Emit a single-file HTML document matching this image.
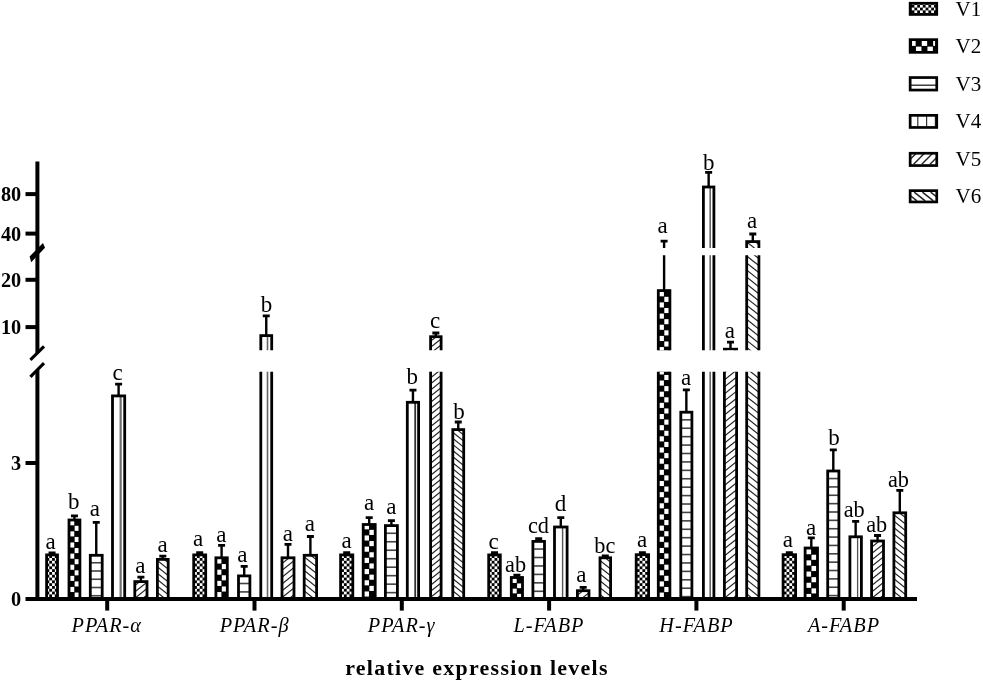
<!DOCTYPE html><html><head><meta charset="utf-8"><title>relative expression levels</title><style>html,body{margin:0;padding:0;background:#fff}body{width:983px;height:682px;overflow:hidden}.lt{font-family:"Liberation Serif","Times New Roman",serif;fill:#000}</style></head><body><svg width="983" height="682" viewBox="0 0 983 682" style="display:block;filter:blur(0.45px)">
<defs>
<clipPath id="segs"><rect x="0" y="150" width="983" height="98.0"/><rect x="0" y="255.3" width="983" height="94.89999999999998"/><rect x="0" y="371.8" width="983" height="233.2"/></clipPath>
<pattern id="p1" patternUnits="userSpaceOnUse" width="5.6" height="5.6" x="0" y="3.600000000000083"><rect width="5.6" height="5.6" fill="#000"/><rect x="0" y="0" width="2.8" height="2.8" fill="#fff"/><rect x="2.8" y="2.8" width="2.8" height="2.8" fill="#fff"/></pattern>
</defs>
<rect width="983" height="682" fill="#fff"/>
<clipPath id="c00"><rect x="46.60" y="554.90" width="10.90" height="44.10"/></clipPath>
<g clip-path="url(#segs)">
<g clip-path="url(#c00)">
<rect x="46.60" y="554.90" width="10.90" height="44.10" fill="#000"/>
<rect x="46.45" y="594.40" width="2.8" height="2.8" fill="#fff"/>
<rect x="52.05" y="594.40" width="2.8" height="2.8" fill="#fff"/>
<rect x="57.65" y="594.40" width="2.8" height="2.8" fill="#fff"/>
<rect x="43.65" y="591.60" width="2.8" height="2.8" fill="#fff"/>
<rect x="49.25" y="591.60" width="2.8" height="2.8" fill="#fff"/>
<rect x="54.85" y="591.60" width="2.8" height="2.8" fill="#fff"/>
<rect x="46.45" y="588.80" width="2.8" height="2.8" fill="#fff"/>
<rect x="52.05" y="588.80" width="2.8" height="2.8" fill="#fff"/>
<rect x="57.65" y="588.80" width="2.8" height="2.8" fill="#fff"/>
<rect x="43.65" y="586.00" width="2.8" height="2.8" fill="#fff"/>
<rect x="49.25" y="586.00" width="2.8" height="2.8" fill="#fff"/>
<rect x="54.85" y="586.00" width="2.8" height="2.8" fill="#fff"/>
<rect x="46.45" y="583.20" width="2.8" height="2.8" fill="#fff"/>
<rect x="52.05" y="583.20" width="2.8" height="2.8" fill="#fff"/>
<rect x="57.65" y="583.20" width="2.8" height="2.8" fill="#fff"/>
<rect x="43.65" y="580.40" width="2.8" height="2.8" fill="#fff"/>
<rect x="49.25" y="580.40" width="2.8" height="2.8" fill="#fff"/>
<rect x="54.85" y="580.40" width="2.8" height="2.8" fill="#fff"/>
<rect x="46.45" y="577.60" width="2.8" height="2.8" fill="#fff"/>
<rect x="52.05" y="577.60" width="2.8" height="2.8" fill="#fff"/>
<rect x="57.65" y="577.60" width="2.8" height="2.8" fill="#fff"/>
<rect x="43.65" y="574.80" width="2.8" height="2.8" fill="#fff"/>
<rect x="49.25" y="574.80" width="2.8" height="2.8" fill="#fff"/>
<rect x="54.85" y="574.80" width="2.8" height="2.8" fill="#fff"/>
<rect x="46.45" y="572.00" width="2.8" height="2.8" fill="#fff"/>
<rect x="52.05" y="572.00" width="2.8" height="2.8" fill="#fff"/>
<rect x="57.65" y="572.00" width="2.8" height="2.8" fill="#fff"/>
<rect x="43.65" y="569.20" width="2.8" height="2.8" fill="#fff"/>
<rect x="49.25" y="569.20" width="2.8" height="2.8" fill="#fff"/>
<rect x="54.85" y="569.20" width="2.8" height="2.8" fill="#fff"/>
<rect x="46.45" y="566.40" width="2.8" height="2.8" fill="#fff"/>
<rect x="52.05" y="566.40" width="2.8" height="2.8" fill="#fff"/>
<rect x="57.65" y="566.40" width="2.8" height="2.8" fill="#fff"/>
<rect x="43.65" y="563.60" width="2.8" height="2.8" fill="#fff"/>
<rect x="49.25" y="563.60" width="2.8" height="2.8" fill="#fff"/>
<rect x="54.85" y="563.60" width="2.8" height="2.8" fill="#fff"/>
<rect x="46.45" y="560.80" width="2.8" height="2.8" fill="#fff"/>
<rect x="52.05" y="560.80" width="2.8" height="2.8" fill="#fff"/>
<rect x="57.65" y="560.80" width="2.8" height="2.8" fill="#fff"/>
<rect x="43.65" y="558.00" width="2.8" height="2.8" fill="#fff"/>
<rect x="49.25" y="558.00" width="2.8" height="2.8" fill="#fff"/>
<rect x="54.85" y="558.00" width="2.8" height="2.8" fill="#fff"/>
<rect x="46.45" y="555.20" width="2.8" height="2.8" fill="#fff"/>
<rect x="52.05" y="555.20" width="2.8" height="2.8" fill="#fff"/>
<rect x="57.65" y="555.20" width="2.8" height="2.8" fill="#fff"/>
<rect x="43.65" y="552.40" width="2.8" height="2.8" fill="#fff"/>
<rect x="49.25" y="552.40" width="2.8" height="2.8" fill="#fff"/>
<rect x="54.85" y="552.40" width="2.8" height="2.8" fill="#fff"/>
<rect x="46.45" y="549.60" width="2.8" height="2.8" fill="#fff"/>
<rect x="52.05" y="549.60" width="2.8" height="2.8" fill="#fff"/>
<rect x="57.65" y="549.60" width="2.8" height="2.8" fill="#fff"/>
</g>
<rect x="46.60" y="554.90" width="10.90" height="44.10" fill="none" stroke="#000" stroke-width="2.8"/>
<line x1="52.05" y1="554.50" x2="52.05" y2="553.30" stroke="#000" stroke-width="2.4"/>
<line x1="48.55" y1="552.90" x2="55.55" y2="552.90" stroke="#000" stroke-width="2.8"/>
</g>
<text x="50.55" y="549.10" text-anchor="middle" font-size="23" class="lt">a</text>
<clipPath id="c01"><rect x="69.00" y="520.00" width="10.90" height="79.00"/></clipPath>
<g clip-path="url(#segs)">
<g clip-path="url(#c01)">
<rect x="69.00" y="520.00" width="10.90" height="79.00" fill="#000"/>
<rect x="69.00" y="520.25" width="5.25" height="5.06" fill="#fff"/>
<rect x="74.65" y="525.81" width="5.25" height="5.06" fill="#fff"/>
<rect x="69.00" y="531.37" width="5.25" height="5.06" fill="#fff"/>
<rect x="74.65" y="536.93" width="5.25" height="5.06" fill="#fff"/>
<rect x="69.00" y="542.49" width="5.25" height="5.06" fill="#fff"/>
<rect x="74.65" y="548.05" width="5.25" height="5.06" fill="#fff"/>
<rect x="69.00" y="553.61" width="5.25" height="5.06" fill="#fff"/>
<rect x="74.65" y="559.17" width="5.25" height="5.06" fill="#fff"/>
<rect x="69.00" y="564.73" width="5.25" height="5.06" fill="#fff"/>
<rect x="74.65" y="570.29" width="5.25" height="5.06" fill="#fff"/>
<rect x="69.00" y="575.85" width="5.25" height="5.06" fill="#fff"/>
<rect x="74.65" y="581.41" width="5.25" height="5.06" fill="#fff"/>
<rect x="69.00" y="586.97" width="5.25" height="5.06" fill="#fff"/>
<rect x="74.65" y="592.53" width="5.25" height="5.06" fill="#fff"/>
<rect x="69.00" y="598.09" width="5.25" height="5.06" fill="#fff"/>
</g>
<rect x="69.00" y="520.00" width="10.90" height="79.00" fill="none" stroke="#000" stroke-width="2.8"/>
<line x1="74.45" y1="519.60" x2="74.45" y2="516.30" stroke="#000" stroke-width="2.4"/>
<line x1="70.95" y1="515.90" x2="77.95" y2="515.90" stroke="#000" stroke-width="2.8"/>
</g>
<text x="73.75" y="508.50" text-anchor="middle" font-size="23" class="lt">b</text>
<clipPath id="c02"><rect x="90.30" y="555.30" width="11.90" height="43.70"/></clipPath>
<g clip-path="url(#segs)">
<g clip-path="url(#c02)">
<rect x="90.30" y="561.95" width="11.90" height="1.6" fill="#444"/>
<rect x="90.30" y="570.20" width="11.90" height="1.6" fill="#444"/>
<rect x="90.30" y="578.45" width="11.90" height="1.6" fill="#444"/>
<rect x="90.30" y="586.70" width="11.90" height="1.6" fill="#444"/>
<rect x="90.30" y="594.95" width="11.90" height="1.6" fill="#444"/>
</g>
<rect x="90.30" y="555.30" width="11.90" height="43.70" fill="none" stroke="#000" stroke-width="2.8"/>
<line x1="96.25" y1="554.90" x2="96.25" y2="522.70" stroke="#000" stroke-width="2.4"/>
<line x1="92.75" y1="522.30" x2="99.75" y2="522.30" stroke="#000" stroke-width="2.8"/>
</g>
<text x="94.75" y="516.10" text-anchor="middle" font-size="23" class="lt">a</text>
<clipPath id="c03"><rect x="112.50" y="395.90" width="12.20" height="203.10"/></clipPath>
<g clip-path="url(#segs)">
<g clip-path="url(#c03)">
<rect x="119.55" y="395.90" width="2.2" height="203.10" fill="#707070"/>
</g>
<rect x="112.50" y="395.90" width="12.20" height="203.10" fill="none" stroke="#000" stroke-width="2.8"/>
<line x1="118.60" y1="395.50" x2="118.60" y2="384.60" stroke="#000" stroke-width="2.4"/>
<line x1="115.10" y1="384.20" x2="122.10" y2="384.20" stroke="#000" stroke-width="2.8"/>
</g>
<text x="117.60" y="379.90" text-anchor="middle" font-size="23" class="lt">c</text>
<clipPath id="c04"><rect x="134.80" y="581.60" width="12.20" height="17.40"/></clipPath>
<g clip-path="url(#segs)">
<g clip-path="url(#c04)">
<line x1="132.80" y1="567.92" x2="149.00" y2="554.96" stroke="#222" stroke-width="1.15"/>
<line x1="132.80" y1="574.32" x2="149.00" y2="561.36" stroke="#222" stroke-width="1.15"/>
<line x1="132.80" y1="580.72" x2="149.00" y2="567.76" stroke="#222" stroke-width="1.15"/>
<line x1="132.80" y1="587.12" x2="149.00" y2="574.16" stroke="#222" stroke-width="1.15"/>
<line x1="132.80" y1="593.52" x2="149.00" y2="580.56" stroke="#222" stroke-width="1.15"/>
<line x1="132.80" y1="599.92" x2="149.00" y2="586.96" stroke="#222" stroke-width="1.15"/>
<line x1="132.80" y1="606.32" x2="149.00" y2="593.36" stroke="#222" stroke-width="1.15"/>
<line x1="132.80" y1="612.72" x2="149.00" y2="599.76" stroke="#222" stroke-width="1.15"/>
</g>
<rect x="134.80" y="581.60" width="12.20" height="17.40" fill="none" stroke="#000" stroke-width="2.8"/>
<line x1="140.90" y1="581.20" x2="140.90" y2="577.50" stroke="#000" stroke-width="2.4"/>
<line x1="137.40" y1="577.10" x2="144.40" y2="577.10" stroke="#000" stroke-width="2.8"/>
</g>
<text x="140.40" y="573.00" text-anchor="middle" font-size="23" class="lt">a</text>
<clipPath id="c05"><rect x="157.40" y="559.40" width="10.80" height="39.60"/></clipPath>
<g clip-path="url(#segs)">
<g clip-path="url(#c05)">
<line x1="155.40" y1="539.66" x2="170.20" y2="551.50" stroke="#222" stroke-width="1.15"/>
<line x1="155.40" y1="546.06" x2="170.20" y2="557.90" stroke="#222" stroke-width="1.15"/>
<line x1="155.40" y1="552.46" x2="170.20" y2="564.30" stroke="#222" stroke-width="1.15"/>
<line x1="155.40" y1="558.86" x2="170.20" y2="570.70" stroke="#222" stroke-width="1.15"/>
<line x1="155.40" y1="565.26" x2="170.20" y2="577.10" stroke="#222" stroke-width="1.15"/>
<line x1="155.40" y1="571.66" x2="170.20" y2="583.50" stroke="#222" stroke-width="1.15"/>
<line x1="155.40" y1="578.06" x2="170.20" y2="589.90" stroke="#222" stroke-width="1.15"/>
<line x1="155.40" y1="584.46" x2="170.20" y2="596.30" stroke="#222" stroke-width="1.15"/>
<line x1="155.40" y1="590.86" x2="170.20" y2="602.70" stroke="#222" stroke-width="1.15"/>
<line x1="155.40" y1="597.26" x2="170.20" y2="609.10" stroke="#222" stroke-width="1.15"/>
<line x1="155.40" y1="603.66" x2="170.20" y2="615.50" stroke="#222" stroke-width="1.15"/>
<line x1="155.40" y1="610.06" x2="170.20" y2="621.90" stroke="#222" stroke-width="1.15"/>
</g>
<rect x="157.40" y="559.40" width="10.80" height="39.60" fill="none" stroke="#000" stroke-width="2.8"/>
<line x1="162.80" y1="559.00" x2="162.80" y2="556.60" stroke="#000" stroke-width="2.4"/>
<line x1="159.30" y1="556.20" x2="166.30" y2="556.20" stroke="#000" stroke-width="2.8"/>
</g>
<text x="162.60" y="552.10" text-anchor="middle" font-size="23" class="lt">a</text>
<clipPath id="c10"><rect x="193.70" y="554.90" width="12.00" height="44.10"/></clipPath>
<g clip-path="url(#segs)">
<g clip-path="url(#c10)">
<rect x="193.70" y="554.90" width="12.00" height="44.10" fill="#000"/>
<rect x="194.10" y="594.40" width="2.8" height="2.8" fill="#fff"/>
<rect x="199.70" y="594.40" width="2.8" height="2.8" fill="#fff"/>
<rect x="205.30" y="594.40" width="2.8" height="2.8" fill="#fff"/>
<rect x="191.30" y="591.60" width="2.8" height="2.8" fill="#fff"/>
<rect x="196.90" y="591.60" width="2.8" height="2.8" fill="#fff"/>
<rect x="202.50" y="591.60" width="2.8" height="2.8" fill="#fff"/>
<rect x="194.10" y="588.80" width="2.8" height="2.8" fill="#fff"/>
<rect x="199.70" y="588.80" width="2.8" height="2.8" fill="#fff"/>
<rect x="205.30" y="588.80" width="2.8" height="2.8" fill="#fff"/>
<rect x="191.30" y="586.00" width="2.8" height="2.8" fill="#fff"/>
<rect x="196.90" y="586.00" width="2.8" height="2.8" fill="#fff"/>
<rect x="202.50" y="586.00" width="2.8" height="2.8" fill="#fff"/>
<rect x="194.10" y="583.20" width="2.8" height="2.8" fill="#fff"/>
<rect x="199.70" y="583.20" width="2.8" height="2.8" fill="#fff"/>
<rect x="205.30" y="583.20" width="2.8" height="2.8" fill="#fff"/>
<rect x="191.30" y="580.40" width="2.8" height="2.8" fill="#fff"/>
<rect x="196.90" y="580.40" width="2.8" height="2.8" fill="#fff"/>
<rect x="202.50" y="580.40" width="2.8" height="2.8" fill="#fff"/>
<rect x="194.10" y="577.60" width="2.8" height="2.8" fill="#fff"/>
<rect x="199.70" y="577.60" width="2.8" height="2.8" fill="#fff"/>
<rect x="205.30" y="577.60" width="2.8" height="2.8" fill="#fff"/>
<rect x="191.30" y="574.80" width="2.8" height="2.8" fill="#fff"/>
<rect x="196.90" y="574.80" width="2.8" height="2.8" fill="#fff"/>
<rect x="202.50" y="574.80" width="2.8" height="2.8" fill="#fff"/>
<rect x="194.10" y="572.00" width="2.8" height="2.8" fill="#fff"/>
<rect x="199.70" y="572.00" width="2.8" height="2.8" fill="#fff"/>
<rect x="205.30" y="572.00" width="2.8" height="2.8" fill="#fff"/>
<rect x="191.30" y="569.20" width="2.8" height="2.8" fill="#fff"/>
<rect x="196.90" y="569.20" width="2.8" height="2.8" fill="#fff"/>
<rect x="202.50" y="569.20" width="2.8" height="2.8" fill="#fff"/>
<rect x="194.10" y="566.40" width="2.8" height="2.8" fill="#fff"/>
<rect x="199.70" y="566.40" width="2.8" height="2.8" fill="#fff"/>
<rect x="205.30" y="566.40" width="2.8" height="2.8" fill="#fff"/>
<rect x="191.30" y="563.60" width="2.8" height="2.8" fill="#fff"/>
<rect x="196.90" y="563.60" width="2.8" height="2.8" fill="#fff"/>
<rect x="202.50" y="563.60" width="2.8" height="2.8" fill="#fff"/>
<rect x="194.10" y="560.80" width="2.8" height="2.8" fill="#fff"/>
<rect x="199.70" y="560.80" width="2.8" height="2.8" fill="#fff"/>
<rect x="205.30" y="560.80" width="2.8" height="2.8" fill="#fff"/>
<rect x="191.30" y="558.00" width="2.8" height="2.8" fill="#fff"/>
<rect x="196.90" y="558.00" width="2.8" height="2.8" fill="#fff"/>
<rect x="202.50" y="558.00" width="2.8" height="2.8" fill="#fff"/>
<rect x="194.10" y="555.20" width="2.8" height="2.8" fill="#fff"/>
<rect x="199.70" y="555.20" width="2.8" height="2.8" fill="#fff"/>
<rect x="205.30" y="555.20" width="2.8" height="2.8" fill="#fff"/>
<rect x="191.30" y="552.40" width="2.8" height="2.8" fill="#fff"/>
<rect x="196.90" y="552.40" width="2.8" height="2.8" fill="#fff"/>
<rect x="202.50" y="552.40" width="2.8" height="2.8" fill="#fff"/>
<rect x="194.10" y="549.60" width="2.8" height="2.8" fill="#fff"/>
<rect x="199.70" y="549.60" width="2.8" height="2.8" fill="#fff"/>
<rect x="205.30" y="549.60" width="2.8" height="2.8" fill="#fff"/>
</g>
<rect x="193.70" y="554.90" width="12.00" height="44.10" fill="none" stroke="#000" stroke-width="2.8"/>
<line x1="199.70" y1="554.50" x2="199.70" y2="553.00" stroke="#000" stroke-width="2.4"/>
<line x1="196.20" y1="552.60" x2="203.20" y2="552.60" stroke="#000" stroke-width="2.8"/>
</g>
<text x="198.20" y="545.80" text-anchor="middle" font-size="23" class="lt">a</text>
<clipPath id="c11"><rect x="215.90" y="557.80" width="11.40" height="41.20"/></clipPath>
<g clip-path="url(#segs)">
<g clip-path="url(#c11)">
<rect x="215.90" y="557.80" width="11.40" height="41.20" fill="#000"/>
<rect x="215.90" y="558.45" width="5.50" height="5.10" fill="#fff"/>
<rect x="221.80" y="564.05" width="5.50" height="5.10" fill="#fff"/>
<rect x="215.90" y="569.65" width="5.50" height="5.10" fill="#fff"/>
<rect x="221.80" y="575.25" width="5.50" height="5.10" fill="#fff"/>
<rect x="215.90" y="580.85" width="5.50" height="5.10" fill="#fff"/>
<rect x="221.80" y="586.45" width="5.50" height="5.10" fill="#fff"/>
<rect x="215.90" y="592.05" width="5.50" height="5.10" fill="#fff"/>
<rect x="221.80" y="597.65" width="5.50" height="5.10" fill="#fff"/>
</g>
<rect x="215.90" y="557.80" width="11.40" height="41.20" fill="none" stroke="#000" stroke-width="2.8"/>
<line x1="221.60" y1="557.40" x2="221.60" y2="545.70" stroke="#000" stroke-width="2.4"/>
<line x1="218.10" y1="545.30" x2="225.10" y2="545.30" stroke="#000" stroke-width="2.8"/>
</g>
<text x="221.40" y="542.20" text-anchor="middle" font-size="23" class="lt">a</text>
<clipPath id="c12"><rect x="238.50" y="575.90" width="11.40" height="23.10"/></clipPath>
<g clip-path="url(#segs)">
<g clip-path="url(#c12)">
<rect x="238.50" y="582.70" width="11.40" height="1.6" fill="#444"/>
<rect x="238.50" y="591.10" width="11.40" height="1.6" fill="#444"/>
</g>
<rect x="238.50" y="575.90" width="11.40" height="23.10" fill="none" stroke="#000" stroke-width="2.8"/>
<line x1="244.20" y1="575.50" x2="244.20" y2="566.80" stroke="#000" stroke-width="2.4"/>
<line x1="240.70" y1="566.40" x2="247.70" y2="566.40" stroke="#000" stroke-width="2.8"/>
</g>
<text x="242.40" y="561.80" text-anchor="middle" font-size="23" class="lt">a</text>
<clipPath id="c13"><rect x="260.80" y="335.60" width="10.90" height="263.40"/></clipPath>
<g clip-path="url(#segs)">
<g clip-path="url(#c13)">
<rect x="266.70" y="335.60" width="1.6" height="263.40" fill="#666"/>
</g>
<rect x="260.80" y="335.60" width="10.90" height="263.40" fill="none" stroke="#000" stroke-width="2.8"/>
<line x1="266.25" y1="335.20" x2="266.25" y2="316.20" stroke="#000" stroke-width="2.4"/>
<line x1="262.75" y1="315.80" x2="269.75" y2="315.80" stroke="#000" stroke-width="2.8"/>
</g>
<text x="266.55" y="311.50" text-anchor="middle" font-size="23" class="lt">b</text>
<clipPath id="c14"><rect x="282.00" y="557.80" width="12.00" height="41.20"/></clipPath>
<g clip-path="url(#segs)">
<g clip-path="url(#c14)">
<line x1="280.00" y1="544.76" x2="296.00" y2="531.96" stroke="#222" stroke-width="1.15"/>
<line x1="280.00" y1="551.56" x2="296.00" y2="538.76" stroke="#222" stroke-width="1.15"/>
<line x1="280.00" y1="558.36" x2="296.00" y2="545.56" stroke="#222" stroke-width="1.15"/>
<line x1="280.00" y1="565.16" x2="296.00" y2="552.36" stroke="#222" stroke-width="1.15"/>
<line x1="280.00" y1="571.96" x2="296.00" y2="559.16" stroke="#222" stroke-width="1.15"/>
<line x1="280.00" y1="578.76" x2="296.00" y2="565.96" stroke="#222" stroke-width="1.15"/>
<line x1="280.00" y1="585.56" x2="296.00" y2="572.76" stroke="#222" stroke-width="1.15"/>
<line x1="280.00" y1="592.36" x2="296.00" y2="579.56" stroke="#222" stroke-width="1.15"/>
<line x1="280.00" y1="599.16" x2="296.00" y2="586.36" stroke="#222" stroke-width="1.15"/>
<line x1="280.00" y1="605.96" x2="296.00" y2="593.16" stroke="#222" stroke-width="1.15"/>
<line x1="280.00" y1="612.76" x2="296.00" y2="599.96" stroke="#222" stroke-width="1.15"/>
</g>
<rect x="282.00" y="557.80" width="12.00" height="41.20" fill="none" stroke="#000" stroke-width="2.8"/>
<line x1="288.00" y1="557.40" x2="288.00" y2="544.70" stroke="#000" stroke-width="2.4"/>
<line x1="284.50" y1="544.30" x2="291.50" y2="544.30" stroke="#000" stroke-width="2.8"/>
</g>
<text x="287.80" y="540.90" text-anchor="middle" font-size="23" class="lt">a</text>
<clipPath id="c15"><rect x="304.20" y="555.30" width="12.40" height="43.70"/></clipPath>
<g clip-path="url(#segs)">
<g clip-path="url(#c15)">
<line x1="302.20" y1="534.80" x2="318.60" y2="547.92" stroke="#222" stroke-width="1.15"/>
<line x1="302.20" y1="541.60" x2="318.60" y2="554.72" stroke="#222" stroke-width="1.15"/>
<line x1="302.20" y1="548.40" x2="318.60" y2="561.52" stroke="#222" stroke-width="1.15"/>
<line x1="302.20" y1="555.20" x2="318.60" y2="568.32" stroke="#222" stroke-width="1.15"/>
<line x1="302.20" y1="562.00" x2="318.60" y2="575.12" stroke="#222" stroke-width="1.15"/>
<line x1="302.20" y1="568.80" x2="318.60" y2="581.92" stroke="#222" stroke-width="1.15"/>
<line x1="302.20" y1="575.60" x2="318.60" y2="588.72" stroke="#222" stroke-width="1.15"/>
<line x1="302.20" y1="582.40" x2="318.60" y2="595.52" stroke="#222" stroke-width="1.15"/>
<line x1="302.20" y1="589.20" x2="318.60" y2="602.32" stroke="#222" stroke-width="1.15"/>
<line x1="302.20" y1="596.00" x2="318.60" y2="609.12" stroke="#222" stroke-width="1.15"/>
<line x1="302.20" y1="602.80" x2="318.60" y2="615.92" stroke="#222" stroke-width="1.15"/>
<line x1="302.20" y1="609.60" x2="318.60" y2="622.72" stroke="#222" stroke-width="1.15"/>
</g>
<rect x="304.20" y="555.30" width="12.40" height="43.70" fill="none" stroke="#000" stroke-width="2.8"/>
<line x1="310.40" y1="554.90" x2="310.40" y2="536.90" stroke="#000" stroke-width="2.4"/>
<line x1="306.90" y1="536.50" x2="313.90" y2="536.50" stroke="#000" stroke-width="2.8"/>
</g>
<text x="309.80" y="530.50" text-anchor="middle" font-size="23" class="lt">a</text>
<clipPath id="c20"><rect x="340.60" y="554.90" width="12.20" height="44.10"/></clipPath>
<g clip-path="url(#segs)">
<g clip-path="url(#c20)">
<rect x="340.60" y="554.90" width="12.20" height="44.10" fill="#000"/>
<rect x="341.10" y="594.40" width="2.8" height="2.8" fill="#fff"/>
<rect x="346.70" y="594.40" width="2.8" height="2.8" fill="#fff"/>
<rect x="352.30" y="594.40" width="2.8" height="2.8" fill="#fff"/>
<rect x="338.30" y="591.60" width="2.8" height="2.8" fill="#fff"/>
<rect x="343.90" y="591.60" width="2.8" height="2.8" fill="#fff"/>
<rect x="349.50" y="591.60" width="2.8" height="2.8" fill="#fff"/>
<rect x="341.10" y="588.80" width="2.8" height="2.8" fill="#fff"/>
<rect x="346.70" y="588.80" width="2.8" height="2.8" fill="#fff"/>
<rect x="352.30" y="588.80" width="2.8" height="2.8" fill="#fff"/>
<rect x="338.30" y="586.00" width="2.8" height="2.8" fill="#fff"/>
<rect x="343.90" y="586.00" width="2.8" height="2.8" fill="#fff"/>
<rect x="349.50" y="586.00" width="2.8" height="2.8" fill="#fff"/>
<rect x="341.10" y="583.20" width="2.8" height="2.8" fill="#fff"/>
<rect x="346.70" y="583.20" width="2.8" height="2.8" fill="#fff"/>
<rect x="352.30" y="583.20" width="2.8" height="2.8" fill="#fff"/>
<rect x="338.30" y="580.40" width="2.8" height="2.8" fill="#fff"/>
<rect x="343.90" y="580.40" width="2.8" height="2.8" fill="#fff"/>
<rect x="349.50" y="580.40" width="2.8" height="2.8" fill="#fff"/>
<rect x="341.10" y="577.60" width="2.8" height="2.8" fill="#fff"/>
<rect x="346.70" y="577.60" width="2.8" height="2.8" fill="#fff"/>
<rect x="352.30" y="577.60" width="2.8" height="2.8" fill="#fff"/>
<rect x="338.30" y="574.80" width="2.8" height="2.8" fill="#fff"/>
<rect x="343.90" y="574.80" width="2.8" height="2.8" fill="#fff"/>
<rect x="349.50" y="574.80" width="2.8" height="2.8" fill="#fff"/>
<rect x="341.10" y="572.00" width="2.8" height="2.8" fill="#fff"/>
<rect x="346.70" y="572.00" width="2.8" height="2.8" fill="#fff"/>
<rect x="352.30" y="572.00" width="2.8" height="2.8" fill="#fff"/>
<rect x="338.30" y="569.20" width="2.8" height="2.8" fill="#fff"/>
<rect x="343.90" y="569.20" width="2.8" height="2.8" fill="#fff"/>
<rect x="349.50" y="569.20" width="2.8" height="2.8" fill="#fff"/>
<rect x="341.10" y="566.40" width="2.8" height="2.8" fill="#fff"/>
<rect x="346.70" y="566.40" width="2.8" height="2.8" fill="#fff"/>
<rect x="352.30" y="566.40" width="2.8" height="2.8" fill="#fff"/>
<rect x="338.30" y="563.60" width="2.8" height="2.8" fill="#fff"/>
<rect x="343.90" y="563.60" width="2.8" height="2.8" fill="#fff"/>
<rect x="349.50" y="563.60" width="2.8" height="2.8" fill="#fff"/>
<rect x="341.10" y="560.80" width="2.8" height="2.8" fill="#fff"/>
<rect x="346.70" y="560.80" width="2.8" height="2.8" fill="#fff"/>
<rect x="352.30" y="560.80" width="2.8" height="2.8" fill="#fff"/>
<rect x="338.30" y="558.00" width="2.8" height="2.8" fill="#fff"/>
<rect x="343.90" y="558.00" width="2.8" height="2.8" fill="#fff"/>
<rect x="349.50" y="558.00" width="2.8" height="2.8" fill="#fff"/>
<rect x="341.10" y="555.20" width="2.8" height="2.8" fill="#fff"/>
<rect x="346.70" y="555.20" width="2.8" height="2.8" fill="#fff"/>
<rect x="352.30" y="555.20" width="2.8" height="2.8" fill="#fff"/>
<rect x="338.30" y="552.40" width="2.8" height="2.8" fill="#fff"/>
<rect x="343.90" y="552.40" width="2.8" height="2.8" fill="#fff"/>
<rect x="349.50" y="552.40" width="2.8" height="2.8" fill="#fff"/>
<rect x="341.10" y="549.60" width="2.8" height="2.8" fill="#fff"/>
<rect x="346.70" y="549.60" width="2.8" height="2.8" fill="#fff"/>
<rect x="352.30" y="549.60" width="2.8" height="2.8" fill="#fff"/>
</g>
<rect x="340.60" y="554.90" width="12.20" height="44.10" fill="none" stroke="#000" stroke-width="2.8"/>
<line x1="346.70" y1="554.50" x2="346.70" y2="553.00" stroke="#000" stroke-width="2.4"/>
<line x1="343.20" y1="552.60" x2="350.20" y2="552.60" stroke="#000" stroke-width="2.8"/>
</g>
<text x="346.50" y="547.60" text-anchor="middle" font-size="23" class="lt">a</text>
<clipPath id="c21"><rect x="363.20" y="524.50" width="12.00" height="74.50"/></clipPath>
<g clip-path="url(#segs)">
<g clip-path="url(#c21)">
<rect x="363.20" y="524.50" width="12.00" height="74.50" fill="#000"/>
<rect x="363.20" y="524.25" width="5.80" height="5.10" fill="#fff"/>
<rect x="369.40" y="529.85" width="5.80" height="5.10" fill="#fff"/>
<rect x="363.20" y="535.45" width="5.80" height="5.10" fill="#fff"/>
<rect x="369.40" y="541.05" width="5.80" height="5.10" fill="#fff"/>
<rect x="363.20" y="546.65" width="5.80" height="5.10" fill="#fff"/>
<rect x="369.40" y="552.25" width="5.80" height="5.10" fill="#fff"/>
<rect x="363.20" y="557.85" width="5.80" height="5.10" fill="#fff"/>
<rect x="369.40" y="563.45" width="5.80" height="5.10" fill="#fff"/>
<rect x="363.20" y="569.05" width="5.80" height="5.10" fill="#fff"/>
<rect x="369.40" y="574.65" width="5.80" height="5.10" fill="#fff"/>
<rect x="363.20" y="580.25" width="5.80" height="5.10" fill="#fff"/>
<rect x="369.40" y="585.85" width="5.80" height="5.10" fill="#fff"/>
<rect x="363.20" y="591.45" width="5.80" height="5.10" fill="#fff"/>
<rect x="369.40" y="597.05" width="5.80" height="5.10" fill="#fff"/>
</g>
<rect x="363.20" y="524.50" width="12.00" height="74.50" fill="none" stroke="#000" stroke-width="2.8"/>
<line x1="369.20" y1="524.10" x2="369.20" y2="518.00" stroke="#000" stroke-width="2.4"/>
<line x1="365.70" y1="517.60" x2="372.70" y2="517.60" stroke="#000" stroke-width="2.8"/>
</g>
<text x="369.20" y="510.20" text-anchor="middle" font-size="23" class="lt">a</text>
<clipPath id="c22"><rect x="385.40" y="525.60" width="12.00" height="73.40"/></clipPath>
<g clip-path="url(#segs)">
<g clip-path="url(#c22)">
<rect x="385.40" y="532.48" width="12.00" height="1.6" fill="#444"/>
<rect x="385.40" y="540.96" width="12.00" height="1.6" fill="#444"/>
<rect x="385.40" y="549.44" width="12.00" height="1.6" fill="#444"/>
<rect x="385.40" y="557.92" width="12.00" height="1.6" fill="#444"/>
<rect x="385.40" y="566.40" width="12.00" height="1.6" fill="#444"/>
<rect x="385.40" y="574.88" width="12.00" height="1.6" fill="#444"/>
<rect x="385.40" y="583.36" width="12.00" height="1.6" fill="#444"/>
<rect x="385.40" y="591.84" width="12.00" height="1.6" fill="#444"/>
</g>
<rect x="385.40" y="525.60" width="12.00" height="73.40" fill="none" stroke="#000" stroke-width="2.8"/>
<line x1="391.40" y1="525.20" x2="391.40" y2="521.00" stroke="#000" stroke-width="2.4"/>
<line x1="387.90" y1="520.60" x2="394.90" y2="520.60" stroke="#000" stroke-width="2.8"/>
</g>
<text x="391.30" y="514.10" text-anchor="middle" font-size="23" class="lt">a</text>
<clipPath id="c23"><rect x="407.30" y="402.30" width="11.30" height="196.70"/></clipPath>
<g clip-path="url(#segs)">
<g clip-path="url(#c23)">
<rect x="414.30" y="402.30" width="1.8" height="196.70" fill="#333"/>
</g>
<rect x="407.30" y="402.30" width="11.30" height="196.70" fill="none" stroke="#000" stroke-width="2.8"/>
<line x1="412.95" y1="401.90" x2="412.95" y2="390.60" stroke="#000" stroke-width="2.4"/>
<line x1="409.45" y1="390.20" x2="416.45" y2="390.20" stroke="#000" stroke-width="2.8"/>
</g>
<text x="412.25" y="383.90" text-anchor="middle" font-size="23" class="lt">b</text>
<clipPath id="c24"><rect x="430.60" y="336.70" width="10.50" height="262.30"/></clipPath>
<g clip-path="url(#segs)">
<g clip-path="url(#c24)">
<line x1="428.60" y1="324.48" x2="443.10" y2="312.88" stroke="#222" stroke-width="1.15"/>
<line x1="428.60" y1="330.58" x2="443.10" y2="318.98" stroke="#222" stroke-width="1.15"/>
<line x1="428.60" y1="336.68" x2="443.10" y2="325.08" stroke="#222" stroke-width="1.15"/>
<line x1="428.60" y1="342.78" x2="443.10" y2="331.18" stroke="#222" stroke-width="1.15"/>
<line x1="428.60" y1="348.88" x2="443.10" y2="337.28" stroke="#222" stroke-width="1.15"/>
<line x1="428.60" y1="354.98" x2="443.10" y2="343.38" stroke="#222" stroke-width="1.15"/>
<line x1="428.60" y1="361.08" x2="443.10" y2="349.48" stroke="#222" stroke-width="1.15"/>
<line x1="428.60" y1="367.18" x2="443.10" y2="355.58" stroke="#222" stroke-width="1.15"/>
<line x1="428.60" y1="373.28" x2="443.10" y2="361.68" stroke="#222" stroke-width="1.15"/>
<line x1="428.60" y1="379.38" x2="443.10" y2="367.78" stroke="#222" stroke-width="1.15"/>
<line x1="428.60" y1="385.48" x2="443.10" y2="373.88" stroke="#222" stroke-width="1.15"/>
<line x1="428.60" y1="391.58" x2="443.10" y2="379.98" stroke="#222" stroke-width="1.15"/>
<line x1="428.60" y1="397.68" x2="443.10" y2="386.08" stroke="#222" stroke-width="1.15"/>
<line x1="428.60" y1="403.78" x2="443.10" y2="392.18" stroke="#222" stroke-width="1.15"/>
<line x1="428.60" y1="409.88" x2="443.10" y2="398.28" stroke="#222" stroke-width="1.15"/>
<line x1="428.60" y1="415.98" x2="443.10" y2="404.38" stroke="#222" stroke-width="1.15"/>
<line x1="428.60" y1="422.08" x2="443.10" y2="410.48" stroke="#222" stroke-width="1.15"/>
<line x1="428.60" y1="428.18" x2="443.10" y2="416.58" stroke="#222" stroke-width="1.15"/>
<line x1="428.60" y1="434.28" x2="443.10" y2="422.68" stroke="#222" stroke-width="1.15"/>
<line x1="428.60" y1="440.38" x2="443.10" y2="428.78" stroke="#222" stroke-width="1.15"/>
<line x1="428.60" y1="446.48" x2="443.10" y2="434.88" stroke="#222" stroke-width="1.15"/>
<line x1="428.60" y1="452.58" x2="443.10" y2="440.98" stroke="#222" stroke-width="1.15"/>
<line x1="428.60" y1="458.68" x2="443.10" y2="447.08" stroke="#222" stroke-width="1.15"/>
<line x1="428.60" y1="464.78" x2="443.10" y2="453.18" stroke="#222" stroke-width="1.15"/>
<line x1="428.60" y1="470.88" x2="443.10" y2="459.28" stroke="#222" stroke-width="1.15"/>
<line x1="428.60" y1="476.98" x2="443.10" y2="465.38" stroke="#222" stroke-width="1.15"/>
<line x1="428.60" y1="483.08" x2="443.10" y2="471.48" stroke="#222" stroke-width="1.15"/>
<line x1="428.60" y1="489.18" x2="443.10" y2="477.58" stroke="#222" stroke-width="1.15"/>
<line x1="428.60" y1="495.28" x2="443.10" y2="483.68" stroke="#222" stroke-width="1.15"/>
<line x1="428.60" y1="501.38" x2="443.10" y2="489.78" stroke="#222" stroke-width="1.15"/>
<line x1="428.60" y1="507.48" x2="443.10" y2="495.88" stroke="#222" stroke-width="1.15"/>
<line x1="428.60" y1="513.58" x2="443.10" y2="501.98" stroke="#222" stroke-width="1.15"/>
<line x1="428.60" y1="519.68" x2="443.10" y2="508.08" stroke="#222" stroke-width="1.15"/>
<line x1="428.60" y1="525.78" x2="443.10" y2="514.18" stroke="#222" stroke-width="1.15"/>
<line x1="428.60" y1="531.88" x2="443.10" y2="520.28" stroke="#222" stroke-width="1.15"/>
<line x1="428.60" y1="537.98" x2="443.10" y2="526.38" stroke="#222" stroke-width="1.15"/>
<line x1="428.60" y1="544.08" x2="443.10" y2="532.48" stroke="#222" stroke-width="1.15"/>
<line x1="428.60" y1="550.18" x2="443.10" y2="538.58" stroke="#222" stroke-width="1.15"/>
<line x1="428.60" y1="556.28" x2="443.10" y2="544.68" stroke="#222" stroke-width="1.15"/>
<line x1="428.60" y1="562.38" x2="443.10" y2="550.78" stroke="#222" stroke-width="1.15"/>
<line x1="428.60" y1="568.48" x2="443.10" y2="556.88" stroke="#222" stroke-width="1.15"/>
<line x1="428.60" y1="574.58" x2="443.10" y2="562.98" stroke="#222" stroke-width="1.15"/>
<line x1="428.60" y1="580.68" x2="443.10" y2="569.08" stroke="#222" stroke-width="1.15"/>
<line x1="428.60" y1="586.78" x2="443.10" y2="575.18" stroke="#222" stroke-width="1.15"/>
<line x1="428.60" y1="592.88" x2="443.10" y2="581.28" stroke="#222" stroke-width="1.15"/>
<line x1="428.60" y1="598.98" x2="443.10" y2="587.38" stroke="#222" stroke-width="1.15"/>
<line x1="428.60" y1="605.08" x2="443.10" y2="593.48" stroke="#222" stroke-width="1.15"/>
<line x1="428.60" y1="611.18" x2="443.10" y2="599.58" stroke="#222" stroke-width="1.15"/>
</g>
<rect x="430.60" y="336.70" width="10.50" height="262.30" fill="none" stroke="#000" stroke-width="2.8"/>
<line x1="435.85" y1="336.30" x2="435.85" y2="333.40" stroke="#000" stroke-width="2.4"/>
<line x1="432.35" y1="333.00" x2="439.35" y2="333.00" stroke="#000" stroke-width="2.8"/>
</g>
<text x="435.15" y="327.90" text-anchor="middle" font-size="23" class="lt">c</text>
<clipPath id="c25"><rect x="452.80" y="429.60" width="10.90" height="169.40"/></clipPath>
<g clip-path="url(#segs)">
<g clip-path="url(#c25)">
<line x1="450.80" y1="412.42" x2="465.70" y2="424.34" stroke="#222" stroke-width="1.15"/>
<line x1="450.80" y1="418.52" x2="465.70" y2="430.44" stroke="#222" stroke-width="1.15"/>
<line x1="450.80" y1="424.62" x2="465.70" y2="436.54" stroke="#222" stroke-width="1.15"/>
<line x1="450.80" y1="430.72" x2="465.70" y2="442.64" stroke="#222" stroke-width="1.15"/>
<line x1="450.80" y1="436.82" x2="465.70" y2="448.74" stroke="#222" stroke-width="1.15"/>
<line x1="450.80" y1="442.92" x2="465.70" y2="454.84" stroke="#222" stroke-width="1.15"/>
<line x1="450.80" y1="449.02" x2="465.70" y2="460.94" stroke="#222" stroke-width="1.15"/>
<line x1="450.80" y1="455.12" x2="465.70" y2="467.04" stroke="#222" stroke-width="1.15"/>
<line x1="450.80" y1="461.22" x2="465.70" y2="473.14" stroke="#222" stroke-width="1.15"/>
<line x1="450.80" y1="467.32" x2="465.70" y2="479.24" stroke="#222" stroke-width="1.15"/>
<line x1="450.80" y1="473.42" x2="465.70" y2="485.34" stroke="#222" stroke-width="1.15"/>
<line x1="450.80" y1="479.52" x2="465.70" y2="491.44" stroke="#222" stroke-width="1.15"/>
<line x1="450.80" y1="485.62" x2="465.70" y2="497.54" stroke="#222" stroke-width="1.15"/>
<line x1="450.80" y1="491.72" x2="465.70" y2="503.64" stroke="#222" stroke-width="1.15"/>
<line x1="450.80" y1="497.82" x2="465.70" y2="509.74" stroke="#222" stroke-width="1.15"/>
<line x1="450.80" y1="503.92" x2="465.70" y2="515.84" stroke="#222" stroke-width="1.15"/>
<line x1="450.80" y1="510.02" x2="465.70" y2="521.94" stroke="#222" stroke-width="1.15"/>
<line x1="450.80" y1="516.12" x2="465.70" y2="528.04" stroke="#222" stroke-width="1.15"/>
<line x1="450.80" y1="522.22" x2="465.70" y2="534.14" stroke="#222" stroke-width="1.15"/>
<line x1="450.80" y1="528.32" x2="465.70" y2="540.24" stroke="#222" stroke-width="1.15"/>
<line x1="450.80" y1="534.42" x2="465.70" y2="546.34" stroke="#222" stroke-width="1.15"/>
<line x1="450.80" y1="540.52" x2="465.70" y2="552.44" stroke="#222" stroke-width="1.15"/>
<line x1="450.80" y1="546.62" x2="465.70" y2="558.54" stroke="#222" stroke-width="1.15"/>
<line x1="450.80" y1="552.72" x2="465.70" y2="564.64" stroke="#222" stroke-width="1.15"/>
<line x1="450.80" y1="558.82" x2="465.70" y2="570.74" stroke="#222" stroke-width="1.15"/>
<line x1="450.80" y1="564.92" x2="465.70" y2="576.84" stroke="#222" stroke-width="1.15"/>
<line x1="450.80" y1="571.02" x2="465.70" y2="582.94" stroke="#222" stroke-width="1.15"/>
<line x1="450.80" y1="577.12" x2="465.70" y2="589.04" stroke="#222" stroke-width="1.15"/>
<line x1="450.80" y1="583.22" x2="465.70" y2="595.14" stroke="#222" stroke-width="1.15"/>
<line x1="450.80" y1="589.32" x2="465.70" y2="601.24" stroke="#222" stroke-width="1.15"/>
<line x1="450.80" y1="595.42" x2="465.70" y2="607.34" stroke="#222" stroke-width="1.15"/>
<line x1="450.80" y1="601.52" x2="465.70" y2="613.44" stroke="#222" stroke-width="1.15"/>
<line x1="450.80" y1="607.62" x2="465.70" y2="619.54" stroke="#222" stroke-width="1.15"/>
</g>
<rect x="452.80" y="429.60" width="10.90" height="169.40" fill="none" stroke="#000" stroke-width="2.8"/>
<line x1="458.25" y1="429.20" x2="458.25" y2="422.40" stroke="#000" stroke-width="2.4"/>
<line x1="454.75" y1="422.00" x2="461.75" y2="422.00" stroke="#000" stroke-width="2.8"/>
</g>
<text x="459.05" y="418.80" text-anchor="middle" font-size="23" class="lt">b</text>
<clipPath id="c30"><rect x="488.70" y="554.90" width="11.60" height="44.10"/></clipPath>
<g clip-path="url(#segs)">
<g clip-path="url(#c30)">
<rect x="488.70" y="554.90" width="11.60" height="44.10" fill="#000"/>
<rect x="488.90" y="594.40" width="2.8" height="2.8" fill="#fff"/>
<rect x="494.50" y="594.40" width="2.8" height="2.8" fill="#fff"/>
<rect x="500.10" y="594.40" width="2.8" height="2.8" fill="#fff"/>
<rect x="486.10" y="591.60" width="2.8" height="2.8" fill="#fff"/>
<rect x="491.70" y="591.60" width="2.8" height="2.8" fill="#fff"/>
<rect x="497.30" y="591.60" width="2.8" height="2.8" fill="#fff"/>
<rect x="488.90" y="588.80" width="2.8" height="2.8" fill="#fff"/>
<rect x="494.50" y="588.80" width="2.8" height="2.8" fill="#fff"/>
<rect x="500.10" y="588.80" width="2.8" height="2.8" fill="#fff"/>
<rect x="486.10" y="586.00" width="2.8" height="2.8" fill="#fff"/>
<rect x="491.70" y="586.00" width="2.8" height="2.8" fill="#fff"/>
<rect x="497.30" y="586.00" width="2.8" height="2.8" fill="#fff"/>
<rect x="488.90" y="583.20" width="2.8" height="2.8" fill="#fff"/>
<rect x="494.50" y="583.20" width="2.8" height="2.8" fill="#fff"/>
<rect x="500.10" y="583.20" width="2.8" height="2.8" fill="#fff"/>
<rect x="486.10" y="580.40" width="2.8" height="2.8" fill="#fff"/>
<rect x="491.70" y="580.40" width="2.8" height="2.8" fill="#fff"/>
<rect x="497.30" y="580.40" width="2.8" height="2.8" fill="#fff"/>
<rect x="488.90" y="577.60" width="2.8" height="2.8" fill="#fff"/>
<rect x="494.50" y="577.60" width="2.8" height="2.8" fill="#fff"/>
<rect x="500.10" y="577.60" width="2.8" height="2.8" fill="#fff"/>
<rect x="486.10" y="574.80" width="2.8" height="2.8" fill="#fff"/>
<rect x="491.70" y="574.80" width="2.8" height="2.8" fill="#fff"/>
<rect x="497.30" y="574.80" width="2.8" height="2.8" fill="#fff"/>
<rect x="488.90" y="572.00" width="2.8" height="2.8" fill="#fff"/>
<rect x="494.50" y="572.00" width="2.8" height="2.8" fill="#fff"/>
<rect x="500.10" y="572.00" width="2.8" height="2.8" fill="#fff"/>
<rect x="486.10" y="569.20" width="2.8" height="2.8" fill="#fff"/>
<rect x="491.70" y="569.20" width="2.8" height="2.8" fill="#fff"/>
<rect x="497.30" y="569.20" width="2.8" height="2.8" fill="#fff"/>
<rect x="488.90" y="566.40" width="2.8" height="2.8" fill="#fff"/>
<rect x="494.50" y="566.40" width="2.8" height="2.8" fill="#fff"/>
<rect x="500.10" y="566.40" width="2.8" height="2.8" fill="#fff"/>
<rect x="486.10" y="563.60" width="2.8" height="2.8" fill="#fff"/>
<rect x="491.70" y="563.60" width="2.8" height="2.8" fill="#fff"/>
<rect x="497.30" y="563.60" width="2.8" height="2.8" fill="#fff"/>
<rect x="488.90" y="560.80" width="2.8" height="2.8" fill="#fff"/>
<rect x="494.50" y="560.80" width="2.8" height="2.8" fill="#fff"/>
<rect x="500.10" y="560.80" width="2.8" height="2.8" fill="#fff"/>
<rect x="486.10" y="558.00" width="2.8" height="2.8" fill="#fff"/>
<rect x="491.70" y="558.00" width="2.8" height="2.8" fill="#fff"/>
<rect x="497.30" y="558.00" width="2.8" height="2.8" fill="#fff"/>
<rect x="488.90" y="555.20" width="2.8" height="2.8" fill="#fff"/>
<rect x="494.50" y="555.20" width="2.8" height="2.8" fill="#fff"/>
<rect x="500.10" y="555.20" width="2.8" height="2.8" fill="#fff"/>
<rect x="486.10" y="552.40" width="2.8" height="2.8" fill="#fff"/>
<rect x="491.70" y="552.40" width="2.8" height="2.8" fill="#fff"/>
<rect x="497.30" y="552.40" width="2.8" height="2.8" fill="#fff"/>
<rect x="488.90" y="549.60" width="2.8" height="2.8" fill="#fff"/>
<rect x="494.50" y="549.60" width="2.8" height="2.8" fill="#fff"/>
<rect x="500.10" y="549.60" width="2.8" height="2.8" fill="#fff"/>
</g>
<rect x="488.70" y="554.90" width="11.60" height="44.10" fill="none" stroke="#000" stroke-width="2.8"/>
<line x1="494.50" y1="554.50" x2="494.50" y2="553.00" stroke="#000" stroke-width="2.4"/>
<line x1="491.00" y1="552.60" x2="498.00" y2="552.60" stroke="#000" stroke-width="2.8"/>
</g>
<text x="493.70" y="549.00" text-anchor="middle" font-size="23" class="lt">c</text>
<clipPath id="c31"><rect x="511.30" y="577.50" width="11.20" height="21.50"/></clipPath>
<g clip-path="url(#segs)">
<g clip-path="url(#c31)">
<rect x="511.30" y="577.50" width="11.20" height="21.50" fill="#000"/>
<rect x="511.30" y="578.25" width="5.40" height="4.70" fill="#fff"/>
<rect x="517.10" y="583.45" width="5.40" height="4.70" fill="#fff"/>
<rect x="511.30" y="588.65" width="5.40" height="4.70" fill="#fff"/>
<rect x="517.10" y="593.85" width="5.40" height="4.70" fill="#fff"/>
<rect x="511.30" y="599.05" width="5.40" height="4.70" fill="#fff"/>
</g>
<rect x="511.30" y="577.50" width="11.20" height="21.50" fill="none" stroke="#000" stroke-width="2.8"/>
<line x1="516.90" y1="577.10" x2="516.90" y2="575.50" stroke="#000" stroke-width="2.4"/>
<line x1="513.40" y1="575.10" x2="520.40" y2="575.10" stroke="#000" stroke-width="2.8"/>
</g>
<text x="515.60" y="572.20" text-anchor="middle" font-size="22.3" class="lt">ab</text>
<clipPath id="c32"><rect x="532.90" y="541.40" width="11.60" height="57.60"/></clipPath>
<g clip-path="url(#segs)">
<g clip-path="url(#c32)">
<rect x="532.90" y="548.25" width="11.60" height="1.6" fill="#444"/>
<rect x="532.90" y="556.70" width="11.60" height="1.6" fill="#444"/>
<rect x="532.90" y="565.15" width="11.60" height="1.6" fill="#444"/>
<rect x="532.90" y="573.60" width="11.60" height="1.6" fill="#444"/>
<rect x="532.90" y="582.05" width="11.60" height="1.6" fill="#444"/>
<rect x="532.90" y="590.50" width="11.60" height="1.6" fill="#444"/>
</g>
<rect x="532.90" y="541.40" width="11.60" height="57.60" fill="none" stroke="#000" stroke-width="2.8"/>
<line x1="538.70" y1="541.00" x2="538.70" y2="539.10" stroke="#000" stroke-width="2.4"/>
<line x1="535.20" y1="538.70" x2="542.20" y2="538.70" stroke="#000" stroke-width="2.8"/>
</g>
<text x="538.40" y="533.30" text-anchor="middle" font-size="22.3" class="lt">cd</text>
<clipPath id="c33"><rect x="554.50" y="527.00" width="12.60" height="72.00"/></clipPath>
<g clip-path="url(#segs)">
<g clip-path="url(#c33)">
<rect x="561.90" y="527.00" width="1.4" height="72.00" fill="#555"/>
</g>
<rect x="554.50" y="527.00" width="12.60" height="72.00" fill="none" stroke="#000" stroke-width="2.8"/>
<line x1="560.80" y1="526.60" x2="560.80" y2="518.00" stroke="#000" stroke-width="2.4"/>
<line x1="557.30" y1="517.60" x2="564.30" y2="517.60" stroke="#000" stroke-width="2.8"/>
</g>
<text x="560.60" y="510.90" text-anchor="middle" font-size="23" class="lt">d</text>
<clipPath id="c34"><rect x="577.40" y="590.70" width="11.60" height="8.30"/></clipPath>
<g clip-path="url(#segs)">
<g clip-path="url(#c34)">
<line x1="575.40" y1="576.38" x2="591.00" y2="563.90" stroke="#222" stroke-width="1.15"/>
<line x1="575.40" y1="583.18" x2="591.00" y2="570.70" stroke="#222" stroke-width="1.15"/>
<line x1="575.40" y1="589.98" x2="591.00" y2="577.50" stroke="#222" stroke-width="1.15"/>
<line x1="575.40" y1="596.78" x2="591.00" y2="584.30" stroke="#222" stroke-width="1.15"/>
<line x1="575.40" y1="603.58" x2="591.00" y2="591.10" stroke="#222" stroke-width="1.15"/>
<line x1="575.40" y1="610.38" x2="591.00" y2="597.90" stroke="#222" stroke-width="1.15"/>
</g>
<rect x="577.40" y="590.70" width="11.60" height="8.30" fill="none" stroke="#000" stroke-width="2.8"/>
<line x1="583.20" y1="590.30" x2="583.20" y2="587.80" stroke="#000" stroke-width="2.4"/>
<line x1="579.70" y1="587.40" x2="586.70" y2="587.40" stroke="#000" stroke-width="2.8"/>
</g>
<text x="581.40" y="582.20" text-anchor="middle" font-size="23" class="lt">a</text>
<clipPath id="c35"><rect x="600.00" y="557.80" width="10.60" height="41.20"/></clipPath>
<g clip-path="url(#segs)">
<g clip-path="url(#c35)">
<line x1="598.00" y1="538.46" x2="612.60" y2="550.14" stroke="#222" stroke-width="1.15"/>
<line x1="598.00" y1="545.26" x2="612.60" y2="556.94" stroke="#222" stroke-width="1.15"/>
<line x1="598.00" y1="552.06" x2="612.60" y2="563.74" stroke="#222" stroke-width="1.15"/>
<line x1="598.00" y1="558.86" x2="612.60" y2="570.54" stroke="#222" stroke-width="1.15"/>
<line x1="598.00" y1="565.66" x2="612.60" y2="577.34" stroke="#222" stroke-width="1.15"/>
<line x1="598.00" y1="572.46" x2="612.60" y2="584.14" stroke="#222" stroke-width="1.15"/>
<line x1="598.00" y1="579.26" x2="612.60" y2="590.94" stroke="#222" stroke-width="1.15"/>
<line x1="598.00" y1="586.06" x2="612.60" y2="597.74" stroke="#222" stroke-width="1.15"/>
<line x1="598.00" y1="592.86" x2="612.60" y2="604.54" stroke="#222" stroke-width="1.15"/>
<line x1="598.00" y1="599.66" x2="612.60" y2="611.34" stroke="#222" stroke-width="1.15"/>
<line x1="598.00" y1="606.46" x2="612.60" y2="618.14" stroke="#222" stroke-width="1.15"/>
</g>
<rect x="600.00" y="557.80" width="10.60" height="41.20" fill="none" stroke="#000" stroke-width="2.8"/>
<line x1="605.30" y1="557.40" x2="605.30" y2="556.40" stroke="#000" stroke-width="2.4"/>
<line x1="601.80" y1="556.00" x2="608.80" y2="556.00" stroke="#000" stroke-width="2.8"/>
</g>
<text x="604.80" y="553.40" text-anchor="middle" font-size="22.3" class="lt">bc</text>
<clipPath id="c40"><rect x="636.20" y="554.70" width="12.40" height="44.30"/></clipPath>
<g clip-path="url(#segs)">
<g clip-path="url(#c40)">
<rect x="636.20" y="554.70" width="12.40" height="44.30" fill="#000"/>
<rect x="636.80" y="594.40" width="2.8" height="2.8" fill="#fff"/>
<rect x="642.40" y="594.40" width="2.8" height="2.8" fill="#fff"/>
<rect x="648.00" y="594.40" width="2.8" height="2.8" fill="#fff"/>
<rect x="634.00" y="591.60" width="2.8" height="2.8" fill="#fff"/>
<rect x="639.60" y="591.60" width="2.8" height="2.8" fill="#fff"/>
<rect x="645.20" y="591.60" width="2.8" height="2.8" fill="#fff"/>
<rect x="636.80" y="588.80" width="2.8" height="2.8" fill="#fff"/>
<rect x="642.40" y="588.80" width="2.8" height="2.8" fill="#fff"/>
<rect x="648.00" y="588.80" width="2.8" height="2.8" fill="#fff"/>
<rect x="634.00" y="586.00" width="2.8" height="2.8" fill="#fff"/>
<rect x="639.60" y="586.00" width="2.8" height="2.8" fill="#fff"/>
<rect x="645.20" y="586.00" width="2.8" height="2.8" fill="#fff"/>
<rect x="636.80" y="583.20" width="2.8" height="2.8" fill="#fff"/>
<rect x="642.40" y="583.20" width="2.8" height="2.8" fill="#fff"/>
<rect x="648.00" y="583.20" width="2.8" height="2.8" fill="#fff"/>
<rect x="634.00" y="580.40" width="2.8" height="2.8" fill="#fff"/>
<rect x="639.60" y="580.40" width="2.8" height="2.8" fill="#fff"/>
<rect x="645.20" y="580.40" width="2.8" height="2.8" fill="#fff"/>
<rect x="636.80" y="577.60" width="2.8" height="2.8" fill="#fff"/>
<rect x="642.40" y="577.60" width="2.8" height="2.8" fill="#fff"/>
<rect x="648.00" y="577.60" width="2.8" height="2.8" fill="#fff"/>
<rect x="634.00" y="574.80" width="2.8" height="2.8" fill="#fff"/>
<rect x="639.60" y="574.80" width="2.8" height="2.8" fill="#fff"/>
<rect x="645.20" y="574.80" width="2.8" height="2.8" fill="#fff"/>
<rect x="636.80" y="572.00" width="2.8" height="2.8" fill="#fff"/>
<rect x="642.40" y="572.00" width="2.8" height="2.8" fill="#fff"/>
<rect x="648.00" y="572.00" width="2.8" height="2.8" fill="#fff"/>
<rect x="634.00" y="569.20" width="2.8" height="2.8" fill="#fff"/>
<rect x="639.60" y="569.20" width="2.8" height="2.8" fill="#fff"/>
<rect x="645.20" y="569.20" width="2.8" height="2.8" fill="#fff"/>
<rect x="636.80" y="566.40" width="2.8" height="2.8" fill="#fff"/>
<rect x="642.40" y="566.40" width="2.8" height="2.8" fill="#fff"/>
<rect x="648.00" y="566.40" width="2.8" height="2.8" fill="#fff"/>
<rect x="634.00" y="563.60" width="2.8" height="2.8" fill="#fff"/>
<rect x="639.60" y="563.60" width="2.8" height="2.8" fill="#fff"/>
<rect x="645.20" y="563.60" width="2.8" height="2.8" fill="#fff"/>
<rect x="636.80" y="560.80" width="2.8" height="2.8" fill="#fff"/>
<rect x="642.40" y="560.80" width="2.8" height="2.8" fill="#fff"/>
<rect x="648.00" y="560.80" width="2.8" height="2.8" fill="#fff"/>
<rect x="634.00" y="558.00" width="2.8" height="2.8" fill="#fff"/>
<rect x="639.60" y="558.00" width="2.8" height="2.8" fill="#fff"/>
<rect x="645.20" y="558.00" width="2.8" height="2.8" fill="#fff"/>
<rect x="636.80" y="555.20" width="2.8" height="2.8" fill="#fff"/>
<rect x="642.40" y="555.20" width="2.8" height="2.8" fill="#fff"/>
<rect x="648.00" y="555.20" width="2.8" height="2.8" fill="#fff"/>
<rect x="634.00" y="552.40" width="2.8" height="2.8" fill="#fff"/>
<rect x="639.60" y="552.40" width="2.8" height="2.8" fill="#fff"/>
<rect x="645.20" y="552.40" width="2.8" height="2.8" fill="#fff"/>
<rect x="636.80" y="549.60" width="2.8" height="2.8" fill="#fff"/>
<rect x="642.40" y="549.60" width="2.8" height="2.8" fill="#fff"/>
<rect x="648.00" y="549.60" width="2.8" height="2.8" fill="#fff"/>
</g>
<rect x="636.20" y="554.70" width="12.40" height="44.30" fill="none" stroke="#000" stroke-width="2.8"/>
<line x1="642.40" y1="554.30" x2="642.40" y2="553.00" stroke="#000" stroke-width="2.4"/>
<line x1="638.90" y1="552.60" x2="645.90" y2="552.60" stroke="#000" stroke-width="2.8"/>
</g>
<text x="642.20" y="547.20" text-anchor="middle" font-size="23" class="lt">a</text>
<clipPath id="c41"><rect x="658.30" y="290.60" width="11.60" height="308.40"/></clipPath>
<g clip-path="url(#segs)">
<g clip-path="url(#c41)">
<rect x="658.30" y="290.60" width="11.60" height="308.40" fill="#000"/>
<rect x="658.30" y="291.25" width="5.60" height="5.08" fill="#fff"/>
<rect x="664.30" y="296.83" width="5.60" height="5.08" fill="#fff"/>
<rect x="658.30" y="302.41" width="5.60" height="5.08" fill="#fff"/>
<rect x="664.30" y="307.99" width="5.60" height="5.08" fill="#fff"/>
<rect x="658.30" y="313.57" width="5.60" height="5.08" fill="#fff"/>
<rect x="664.30" y="319.15" width="5.60" height="5.08" fill="#fff"/>
<rect x="658.30" y="324.73" width="5.60" height="5.08" fill="#fff"/>
<rect x="664.30" y="330.31" width="5.60" height="5.08" fill="#fff"/>
<rect x="658.30" y="335.89" width="5.60" height="5.08" fill="#fff"/>
<rect x="664.30" y="341.47" width="5.60" height="5.08" fill="#fff"/>
<rect x="658.30" y="347.05" width="5.60" height="5.08" fill="#fff"/>
<rect x="664.30" y="352.63" width="5.60" height="5.08" fill="#fff"/>
<rect x="658.30" y="358.21" width="5.60" height="5.08" fill="#fff"/>
<rect x="664.30" y="363.79" width="5.60" height="5.08" fill="#fff"/>
<rect x="658.30" y="369.37" width="5.60" height="5.08" fill="#fff"/>
<rect x="664.30" y="374.95" width="5.60" height="5.08" fill="#fff"/>
<rect x="658.30" y="380.53" width="5.60" height="5.08" fill="#fff"/>
<rect x="664.30" y="386.11" width="5.60" height="5.08" fill="#fff"/>
<rect x="658.30" y="391.69" width="5.60" height="5.08" fill="#fff"/>
<rect x="664.30" y="397.27" width="5.60" height="5.08" fill="#fff"/>
<rect x="658.30" y="402.85" width="5.60" height="5.08" fill="#fff"/>
<rect x="664.30" y="408.43" width="5.60" height="5.08" fill="#fff"/>
<rect x="658.30" y="414.01" width="5.60" height="5.08" fill="#fff"/>
<rect x="664.30" y="419.59" width="5.60" height="5.08" fill="#fff"/>
<rect x="658.30" y="425.17" width="5.60" height="5.08" fill="#fff"/>
<rect x="664.30" y="430.75" width="5.60" height="5.08" fill="#fff"/>
<rect x="658.30" y="436.33" width="5.60" height="5.08" fill="#fff"/>
<rect x="664.30" y="441.91" width="5.60" height="5.08" fill="#fff"/>
<rect x="658.30" y="447.49" width="5.60" height="5.08" fill="#fff"/>
<rect x="664.30" y="453.07" width="5.60" height="5.08" fill="#fff"/>
<rect x="658.30" y="458.65" width="5.60" height="5.08" fill="#fff"/>
<rect x="664.30" y="464.23" width="5.60" height="5.08" fill="#fff"/>
<rect x="658.30" y="469.81" width="5.60" height="5.08" fill="#fff"/>
<rect x="664.30" y="475.39" width="5.60" height="5.08" fill="#fff"/>
<rect x="658.30" y="480.97" width="5.60" height="5.08" fill="#fff"/>
<rect x="664.30" y="486.55" width="5.60" height="5.08" fill="#fff"/>
<rect x="658.30" y="492.13" width="5.60" height="5.08" fill="#fff"/>
<rect x="664.30" y="497.71" width="5.60" height="5.08" fill="#fff"/>
<rect x="658.30" y="503.29" width="5.60" height="5.08" fill="#fff"/>
<rect x="664.30" y="508.87" width="5.60" height="5.08" fill="#fff"/>
<rect x="658.30" y="514.45" width="5.60" height="5.08" fill="#fff"/>
<rect x="664.30" y="520.03" width="5.60" height="5.08" fill="#fff"/>
<rect x="658.30" y="525.61" width="5.60" height="5.08" fill="#fff"/>
<rect x="664.30" y="531.19" width="5.60" height="5.08" fill="#fff"/>
<rect x="658.30" y="536.77" width="5.60" height="5.08" fill="#fff"/>
<rect x="664.30" y="542.35" width="5.60" height="5.08" fill="#fff"/>
<rect x="658.30" y="547.93" width="5.60" height="5.08" fill="#fff"/>
<rect x="664.30" y="553.51" width="5.60" height="5.08" fill="#fff"/>
<rect x="658.30" y="559.09" width="5.60" height="5.08" fill="#fff"/>
<rect x="664.30" y="564.67" width="5.60" height="5.08" fill="#fff"/>
<rect x="658.30" y="570.25" width="5.60" height="5.08" fill="#fff"/>
<rect x="664.30" y="575.83" width="5.60" height="5.08" fill="#fff"/>
<rect x="658.30" y="581.41" width="5.60" height="5.08" fill="#fff"/>
<rect x="664.30" y="586.99" width="5.60" height="5.08" fill="#fff"/>
<rect x="658.30" y="592.57" width="5.60" height="5.08" fill="#fff"/>
<rect x="664.30" y="598.15" width="5.60" height="5.08" fill="#fff"/>
</g>
<rect x="658.30" y="290.60" width="11.60" height="308.40" fill="none" stroke="#000" stroke-width="2.8"/>
<line x1="664.10" y1="290.20" x2="664.10" y2="241.60" stroke="#000" stroke-width="2.4"/>
<line x1="660.60" y1="241.20" x2="667.60" y2="241.20" stroke="#000" stroke-width="2.8"/>
</g>
<text x="662.70" y="232.50" text-anchor="middle" font-size="23" class="lt">a</text>
<clipPath id="c42"><rect x="680.80" y="412.20" width="11.10" height="186.80"/></clipPath>
<g clip-path="url(#segs)">
<g clip-path="url(#c42)">
<rect x="680.80" y="419.02" width="11.10" height="1.6" fill="#444"/>
<rect x="680.80" y="427.44" width="11.10" height="1.6" fill="#444"/>
<rect x="680.80" y="435.86" width="11.10" height="1.6" fill="#444"/>
<rect x="680.80" y="444.28" width="11.10" height="1.6" fill="#444"/>
<rect x="680.80" y="452.70" width="11.10" height="1.6" fill="#444"/>
<rect x="680.80" y="461.12" width="11.10" height="1.6" fill="#444"/>
<rect x="680.80" y="469.54" width="11.10" height="1.6" fill="#444"/>
<rect x="680.80" y="477.96" width="11.10" height="1.6" fill="#444"/>
<rect x="680.80" y="486.38" width="11.10" height="1.6" fill="#444"/>
<rect x="680.80" y="494.80" width="11.10" height="1.6" fill="#444"/>
<rect x="680.80" y="503.22" width="11.10" height="1.6" fill="#444"/>
<rect x="680.80" y="511.64" width="11.10" height="1.6" fill="#444"/>
<rect x="680.80" y="520.06" width="11.10" height="1.6" fill="#444"/>
<rect x="680.80" y="528.48" width="11.10" height="1.6" fill="#444"/>
<rect x="680.80" y="536.90" width="11.10" height="1.6" fill="#444"/>
<rect x="680.80" y="545.32" width="11.10" height="1.6" fill="#444"/>
<rect x="680.80" y="553.74" width="11.10" height="1.6" fill="#444"/>
<rect x="680.80" y="562.16" width="11.10" height="1.6" fill="#444"/>
<rect x="680.80" y="570.58" width="11.10" height="1.6" fill="#444"/>
<rect x="680.80" y="579.00" width="11.10" height="1.6" fill="#444"/>
<rect x="680.80" y="587.42" width="11.10" height="1.6" fill="#444"/>
<rect x="680.80" y="595.84" width="11.10" height="1.6" fill="#444"/>
</g>
<rect x="680.80" y="412.20" width="11.10" height="186.80" fill="none" stroke="#000" stroke-width="2.8"/>
<line x1="686.35" y1="411.80" x2="686.35" y2="390.20" stroke="#000" stroke-width="2.4"/>
<line x1="682.85" y1="389.80" x2="689.85" y2="389.80" stroke="#000" stroke-width="2.8"/>
</g>
<text x="686.15" y="385.10" text-anchor="middle" font-size="23" class="lt">a</text>
<clipPath id="c43"><rect x="703.40" y="187.00" width="10.50" height="412.00"/></clipPath>
<g clip-path="url(#segs)">
<g clip-path="url(#c43)">
<rect x="709.40" y="187.00" width="1.6" height="412.00" fill="#666"/>
</g>
<rect x="703.40" y="187.00" width="10.50" height="412.00" fill="none" stroke="#000" stroke-width="2.8"/>
<line x1="708.65" y1="186.60" x2="708.65" y2="172.80" stroke="#000" stroke-width="2.4"/>
<line x1="705.15" y1="172.40" x2="712.15" y2="172.40" stroke="#000" stroke-width="2.8"/>
</g>
<text x="708.85" y="169.70" text-anchor="middle" font-size="23" class="lt">b</text>
<clipPath id="c44"><rect x="724.40" y="349.20" width="12.20" height="249.80"/></clipPath>
<g clip-path="url(#segs)">
<g clip-path="url(#c44)">
<line x1="722.40" y1="339.19" x2="738.60" y2="326.23" stroke="#222" stroke-width="1.15"/>
<line x1="722.40" y1="346.23" x2="738.60" y2="333.27" stroke="#222" stroke-width="1.15"/>
<line x1="722.40" y1="353.27" x2="738.60" y2="340.31" stroke="#222" stroke-width="1.15"/>
<line x1="722.40" y1="360.31" x2="738.60" y2="347.35" stroke="#222" stroke-width="1.15"/>
<line x1="722.40" y1="367.35" x2="738.60" y2="354.39" stroke="#222" stroke-width="1.15"/>
<line x1="722.40" y1="374.39" x2="738.60" y2="361.43" stroke="#222" stroke-width="1.15"/>
<line x1="722.40" y1="381.43" x2="738.60" y2="368.47" stroke="#222" stroke-width="1.15"/>
<line x1="722.40" y1="388.47" x2="738.60" y2="375.51" stroke="#222" stroke-width="1.15"/>
<line x1="722.40" y1="395.51" x2="738.60" y2="382.55" stroke="#222" stroke-width="1.15"/>
<line x1="722.40" y1="402.55" x2="738.60" y2="389.59" stroke="#222" stroke-width="1.15"/>
<line x1="722.40" y1="409.59" x2="738.60" y2="396.63" stroke="#222" stroke-width="1.15"/>
<line x1="722.40" y1="416.63" x2="738.60" y2="403.67" stroke="#222" stroke-width="1.15"/>
<line x1="722.40" y1="423.67" x2="738.60" y2="410.71" stroke="#222" stroke-width="1.15"/>
<line x1="722.40" y1="430.71" x2="738.60" y2="417.75" stroke="#222" stroke-width="1.15"/>
<line x1="722.40" y1="437.75" x2="738.60" y2="424.79" stroke="#222" stroke-width="1.15"/>
<line x1="722.40" y1="444.79" x2="738.60" y2="431.83" stroke="#222" stroke-width="1.15"/>
<line x1="722.40" y1="451.83" x2="738.60" y2="438.87" stroke="#222" stroke-width="1.15"/>
<line x1="722.40" y1="458.87" x2="738.60" y2="445.91" stroke="#222" stroke-width="1.15"/>
<line x1="722.40" y1="465.91" x2="738.60" y2="452.95" stroke="#222" stroke-width="1.15"/>
<line x1="722.40" y1="472.95" x2="738.60" y2="459.99" stroke="#222" stroke-width="1.15"/>
<line x1="722.40" y1="479.99" x2="738.60" y2="467.03" stroke="#222" stroke-width="1.15"/>
<line x1="722.40" y1="487.03" x2="738.60" y2="474.07" stroke="#222" stroke-width="1.15"/>
<line x1="722.40" y1="494.07" x2="738.60" y2="481.11" stroke="#222" stroke-width="1.15"/>
<line x1="722.40" y1="501.11" x2="738.60" y2="488.15" stroke="#222" stroke-width="1.15"/>
<line x1="722.40" y1="508.15" x2="738.60" y2="495.19" stroke="#222" stroke-width="1.15"/>
<line x1="722.40" y1="515.19" x2="738.60" y2="502.23" stroke="#222" stroke-width="1.15"/>
<line x1="722.40" y1="522.23" x2="738.60" y2="509.27" stroke="#222" stroke-width="1.15"/>
<line x1="722.40" y1="529.27" x2="738.60" y2="516.31" stroke="#222" stroke-width="1.15"/>
<line x1="722.40" y1="536.31" x2="738.60" y2="523.35" stroke="#222" stroke-width="1.15"/>
<line x1="722.40" y1="543.35" x2="738.60" y2="530.39" stroke="#222" stroke-width="1.15"/>
<line x1="722.40" y1="550.39" x2="738.60" y2="537.43" stroke="#222" stroke-width="1.15"/>
<line x1="722.40" y1="557.43" x2="738.60" y2="544.47" stroke="#222" stroke-width="1.15"/>
<line x1="722.40" y1="564.47" x2="738.60" y2="551.51" stroke="#222" stroke-width="1.15"/>
<line x1="722.40" y1="571.51" x2="738.60" y2="558.55" stroke="#222" stroke-width="1.15"/>
<line x1="722.40" y1="578.55" x2="738.60" y2="565.59" stroke="#222" stroke-width="1.15"/>
<line x1="722.40" y1="585.59" x2="738.60" y2="572.63" stroke="#222" stroke-width="1.15"/>
<line x1="722.40" y1="592.63" x2="738.60" y2="579.67" stroke="#222" stroke-width="1.15"/>
<line x1="722.40" y1="599.67" x2="738.60" y2="586.71" stroke="#222" stroke-width="1.15"/>
<line x1="722.40" y1="606.71" x2="738.60" y2="593.75" stroke="#222" stroke-width="1.15"/>
<line x1="722.40" y1="613.75" x2="738.60" y2="600.79" stroke="#222" stroke-width="1.15"/>
</g>
<rect x="724.40" y="349.20" width="12.20" height="249.80" fill="none" stroke="#000" stroke-width="2.8"/>
<line x1="730.50" y1="348.80" x2="730.50" y2="342.50" stroke="#000" stroke-width="2.4"/>
<line x1="727.00" y1="342.10" x2="734.00" y2="342.10" stroke="#000" stroke-width="2.8"/>
</g>
<text x="729.80" y="337.60" text-anchor="middle" font-size="23" class="lt">a</text>
<clipPath id="c45"><rect x="746.70" y="241.60" width="12.20" height="357.40"/></clipPath>
<g clip-path="url(#segs)">
<g clip-path="url(#c45)">
<line x1="744.70" y1="226.19" x2="760.90" y2="239.15" stroke="#222" stroke-width="1.15"/>
<line x1="744.70" y1="233.23" x2="760.90" y2="246.19" stroke="#222" stroke-width="1.15"/>
<line x1="744.70" y1="240.27" x2="760.90" y2="253.23" stroke="#222" stroke-width="1.15"/>
<line x1="744.70" y1="247.31" x2="760.90" y2="260.27" stroke="#222" stroke-width="1.15"/>
<line x1="744.70" y1="254.35" x2="760.90" y2="267.31" stroke="#222" stroke-width="1.15"/>
<line x1="744.70" y1="261.39" x2="760.90" y2="274.35" stroke="#222" stroke-width="1.15"/>
<line x1="744.70" y1="268.43" x2="760.90" y2="281.39" stroke="#222" stroke-width="1.15"/>
<line x1="744.70" y1="275.47" x2="760.90" y2="288.43" stroke="#222" stroke-width="1.15"/>
<line x1="744.70" y1="282.51" x2="760.90" y2="295.47" stroke="#222" stroke-width="1.15"/>
<line x1="744.70" y1="289.55" x2="760.90" y2="302.51" stroke="#222" stroke-width="1.15"/>
<line x1="744.70" y1="296.59" x2="760.90" y2="309.55" stroke="#222" stroke-width="1.15"/>
<line x1="744.70" y1="303.63" x2="760.90" y2="316.59" stroke="#222" stroke-width="1.15"/>
<line x1="744.70" y1="310.67" x2="760.90" y2="323.63" stroke="#222" stroke-width="1.15"/>
<line x1="744.70" y1="317.71" x2="760.90" y2="330.67" stroke="#222" stroke-width="1.15"/>
<line x1="744.70" y1="324.75" x2="760.90" y2="337.71" stroke="#222" stroke-width="1.15"/>
<line x1="744.70" y1="331.79" x2="760.90" y2="344.75" stroke="#222" stroke-width="1.15"/>
<line x1="744.70" y1="338.83" x2="760.90" y2="351.79" stroke="#222" stroke-width="1.15"/>
<line x1="744.70" y1="345.87" x2="760.90" y2="358.83" stroke="#222" stroke-width="1.15"/>
<line x1="744.70" y1="352.91" x2="760.90" y2="365.87" stroke="#222" stroke-width="1.15"/>
<line x1="744.70" y1="359.95" x2="760.90" y2="372.91" stroke="#222" stroke-width="1.15"/>
<line x1="744.70" y1="366.99" x2="760.90" y2="379.95" stroke="#222" stroke-width="1.15"/>
<line x1="744.70" y1="374.03" x2="760.90" y2="386.99" stroke="#222" stroke-width="1.15"/>
<line x1="744.70" y1="381.07" x2="760.90" y2="394.03" stroke="#222" stroke-width="1.15"/>
<line x1="744.70" y1="388.11" x2="760.90" y2="401.07" stroke="#222" stroke-width="1.15"/>
<line x1="744.70" y1="395.15" x2="760.90" y2="408.11" stroke="#222" stroke-width="1.15"/>
<line x1="744.70" y1="402.19" x2="760.90" y2="415.15" stroke="#222" stroke-width="1.15"/>
<line x1="744.70" y1="409.23" x2="760.90" y2="422.19" stroke="#222" stroke-width="1.15"/>
<line x1="744.70" y1="416.27" x2="760.90" y2="429.23" stroke="#222" stroke-width="1.15"/>
<line x1="744.70" y1="423.31" x2="760.90" y2="436.27" stroke="#222" stroke-width="1.15"/>
<line x1="744.70" y1="430.35" x2="760.90" y2="443.31" stroke="#222" stroke-width="1.15"/>
<line x1="744.70" y1="437.39" x2="760.90" y2="450.35" stroke="#222" stroke-width="1.15"/>
<line x1="744.70" y1="444.43" x2="760.90" y2="457.39" stroke="#222" stroke-width="1.15"/>
<line x1="744.70" y1="451.47" x2="760.90" y2="464.43" stroke="#222" stroke-width="1.15"/>
<line x1="744.70" y1="458.51" x2="760.90" y2="471.47" stroke="#222" stroke-width="1.15"/>
<line x1="744.70" y1="465.55" x2="760.90" y2="478.51" stroke="#222" stroke-width="1.15"/>
<line x1="744.70" y1="472.59" x2="760.90" y2="485.55" stroke="#222" stroke-width="1.15"/>
<line x1="744.70" y1="479.63" x2="760.90" y2="492.59" stroke="#222" stroke-width="1.15"/>
<line x1="744.70" y1="486.67" x2="760.90" y2="499.63" stroke="#222" stroke-width="1.15"/>
<line x1="744.70" y1="493.71" x2="760.90" y2="506.67" stroke="#222" stroke-width="1.15"/>
<line x1="744.70" y1="500.75" x2="760.90" y2="513.71" stroke="#222" stroke-width="1.15"/>
<line x1="744.70" y1="507.79" x2="760.90" y2="520.75" stroke="#222" stroke-width="1.15"/>
<line x1="744.70" y1="514.83" x2="760.90" y2="527.79" stroke="#222" stroke-width="1.15"/>
<line x1="744.70" y1="521.87" x2="760.90" y2="534.83" stroke="#222" stroke-width="1.15"/>
<line x1="744.70" y1="528.91" x2="760.90" y2="541.87" stroke="#222" stroke-width="1.15"/>
<line x1="744.70" y1="535.95" x2="760.90" y2="548.91" stroke="#222" stroke-width="1.15"/>
<line x1="744.70" y1="542.99" x2="760.90" y2="555.95" stroke="#222" stroke-width="1.15"/>
<line x1="744.70" y1="550.03" x2="760.90" y2="562.99" stroke="#222" stroke-width="1.15"/>
<line x1="744.70" y1="557.07" x2="760.90" y2="570.03" stroke="#222" stroke-width="1.15"/>
<line x1="744.70" y1="564.11" x2="760.90" y2="577.07" stroke="#222" stroke-width="1.15"/>
<line x1="744.70" y1="571.15" x2="760.90" y2="584.11" stroke="#222" stroke-width="1.15"/>
<line x1="744.70" y1="578.19" x2="760.90" y2="591.15" stroke="#222" stroke-width="1.15"/>
<line x1="744.70" y1="585.23" x2="760.90" y2="598.19" stroke="#222" stroke-width="1.15"/>
<line x1="744.70" y1="592.27" x2="760.90" y2="605.23" stroke="#222" stroke-width="1.15"/>
<line x1="744.70" y1="599.31" x2="760.90" y2="612.27" stroke="#222" stroke-width="1.15"/>
<line x1="744.70" y1="606.35" x2="760.90" y2="619.31" stroke="#222" stroke-width="1.15"/>
</g>
<rect x="746.70" y="241.60" width="12.20" height="357.40" fill="none" stroke="#000" stroke-width="2.8"/>
<line x1="752.80" y1="241.20" x2="752.80" y2="234.40" stroke="#000" stroke-width="2.4"/>
<line x1="749.30" y1="234.00" x2="756.30" y2="234.00" stroke="#000" stroke-width="2.8"/>
</g>
<text x="752.10" y="227.50" text-anchor="middle" font-size="23" class="lt">a</text>
<clipPath id="c50"><rect x="783.10" y="554.70" width="12.50" height="44.30"/></clipPath>
<g clip-path="url(#segs)">
<g clip-path="url(#c50)">
<rect x="783.10" y="554.70" width="12.50" height="44.30" fill="#000"/>
<rect x="783.75" y="594.40" width="2.8" height="2.8" fill="#fff"/>
<rect x="789.35" y="594.40" width="2.8" height="2.8" fill="#fff"/>
<rect x="794.95" y="594.40" width="2.8" height="2.8" fill="#fff"/>
<rect x="780.95" y="591.60" width="2.8" height="2.8" fill="#fff"/>
<rect x="786.55" y="591.60" width="2.8" height="2.8" fill="#fff"/>
<rect x="792.15" y="591.60" width="2.8" height="2.8" fill="#fff"/>
<rect x="783.75" y="588.80" width="2.8" height="2.8" fill="#fff"/>
<rect x="789.35" y="588.80" width="2.8" height="2.8" fill="#fff"/>
<rect x="794.95" y="588.80" width="2.8" height="2.8" fill="#fff"/>
<rect x="780.95" y="586.00" width="2.8" height="2.8" fill="#fff"/>
<rect x="786.55" y="586.00" width="2.8" height="2.8" fill="#fff"/>
<rect x="792.15" y="586.00" width="2.8" height="2.8" fill="#fff"/>
<rect x="783.75" y="583.20" width="2.8" height="2.8" fill="#fff"/>
<rect x="789.35" y="583.20" width="2.8" height="2.8" fill="#fff"/>
<rect x="794.95" y="583.20" width="2.8" height="2.8" fill="#fff"/>
<rect x="780.95" y="580.40" width="2.8" height="2.8" fill="#fff"/>
<rect x="786.55" y="580.40" width="2.8" height="2.8" fill="#fff"/>
<rect x="792.15" y="580.40" width="2.8" height="2.8" fill="#fff"/>
<rect x="783.75" y="577.60" width="2.8" height="2.8" fill="#fff"/>
<rect x="789.35" y="577.60" width="2.8" height="2.8" fill="#fff"/>
<rect x="794.95" y="577.60" width="2.8" height="2.8" fill="#fff"/>
<rect x="780.95" y="574.80" width="2.8" height="2.8" fill="#fff"/>
<rect x="786.55" y="574.80" width="2.8" height="2.8" fill="#fff"/>
<rect x="792.15" y="574.80" width="2.8" height="2.8" fill="#fff"/>
<rect x="783.75" y="572.00" width="2.8" height="2.8" fill="#fff"/>
<rect x="789.35" y="572.00" width="2.8" height="2.8" fill="#fff"/>
<rect x="794.95" y="572.00" width="2.8" height="2.8" fill="#fff"/>
<rect x="780.95" y="569.20" width="2.8" height="2.8" fill="#fff"/>
<rect x="786.55" y="569.20" width="2.8" height="2.8" fill="#fff"/>
<rect x="792.15" y="569.20" width="2.8" height="2.8" fill="#fff"/>
<rect x="783.75" y="566.40" width="2.8" height="2.8" fill="#fff"/>
<rect x="789.35" y="566.40" width="2.8" height="2.8" fill="#fff"/>
<rect x="794.95" y="566.40" width="2.8" height="2.8" fill="#fff"/>
<rect x="780.95" y="563.60" width="2.8" height="2.8" fill="#fff"/>
<rect x="786.55" y="563.60" width="2.8" height="2.8" fill="#fff"/>
<rect x="792.15" y="563.60" width="2.8" height="2.8" fill="#fff"/>
<rect x="783.75" y="560.80" width="2.8" height="2.8" fill="#fff"/>
<rect x="789.35" y="560.80" width="2.8" height="2.8" fill="#fff"/>
<rect x="794.95" y="560.80" width="2.8" height="2.8" fill="#fff"/>
<rect x="780.95" y="558.00" width="2.8" height="2.8" fill="#fff"/>
<rect x="786.55" y="558.00" width="2.8" height="2.8" fill="#fff"/>
<rect x="792.15" y="558.00" width="2.8" height="2.8" fill="#fff"/>
<rect x="783.75" y="555.20" width="2.8" height="2.8" fill="#fff"/>
<rect x="789.35" y="555.20" width="2.8" height="2.8" fill="#fff"/>
<rect x="794.95" y="555.20" width="2.8" height="2.8" fill="#fff"/>
<rect x="780.95" y="552.40" width="2.8" height="2.8" fill="#fff"/>
<rect x="786.55" y="552.40" width="2.8" height="2.8" fill="#fff"/>
<rect x="792.15" y="552.40" width="2.8" height="2.8" fill="#fff"/>
<rect x="783.75" y="549.60" width="2.8" height="2.8" fill="#fff"/>
<rect x="789.35" y="549.60" width="2.8" height="2.8" fill="#fff"/>
<rect x="794.95" y="549.60" width="2.8" height="2.8" fill="#fff"/>
</g>
<rect x="783.10" y="554.70" width="12.50" height="44.30" fill="none" stroke="#000" stroke-width="2.8"/>
<line x1="789.35" y1="554.30" x2="789.35" y2="553.00" stroke="#000" stroke-width="2.4"/>
<line x1="785.85" y1="552.60" x2="792.85" y2="552.60" stroke="#000" stroke-width="2.8"/>
</g>
<text x="787.85" y="547.40" text-anchor="middle" font-size="23" class="lt">a</text>
<clipPath id="c51"><rect x="805.10" y="548.00" width="12.40" height="51.00"/></clipPath>
<g clip-path="url(#segs)">
<g clip-path="url(#c51)">
<rect x="805.10" y="548.00" width="12.40" height="51.00" fill="#000"/>
<rect x="805.10" y="549.15" width="6.00" height="5.10" fill="#fff"/>
<rect x="811.50" y="554.75" width="6.00" height="5.10" fill="#fff"/>
<rect x="805.10" y="560.35" width="6.00" height="5.10" fill="#fff"/>
<rect x="811.50" y="565.95" width="6.00" height="5.10" fill="#fff"/>
<rect x="805.10" y="571.55" width="6.00" height="5.10" fill="#fff"/>
<rect x="811.50" y="577.15" width="6.00" height="5.10" fill="#fff"/>
<rect x="805.10" y="582.75" width="6.00" height="5.10" fill="#fff"/>
<rect x="811.50" y="588.35" width="6.00" height="5.10" fill="#fff"/>
<rect x="805.10" y="593.95" width="6.00" height="5.10" fill="#fff"/>
</g>
<rect x="805.10" y="548.00" width="12.40" height="51.00" fill="none" stroke="#000" stroke-width="2.8"/>
<line x1="811.30" y1="547.60" x2="811.30" y2="538.20" stroke="#000" stroke-width="2.4"/>
<line x1="807.80" y1="537.80" x2="814.80" y2="537.80" stroke="#000" stroke-width="2.8"/>
</g>
<text x="811.10" y="534.70" text-anchor="middle" font-size="23" class="lt">a</text>
<clipPath id="c52"><rect x="827.70" y="471.00" width="11.20" height="128.00"/></clipPath>
<g clip-path="url(#segs)">
<g clip-path="url(#c52)">
<rect x="827.70" y="477.76" width="11.20" height="1.6" fill="#444"/>
<rect x="827.70" y="486.12" width="11.20" height="1.6" fill="#444"/>
<rect x="827.70" y="494.48" width="11.20" height="1.6" fill="#444"/>
<rect x="827.70" y="502.84" width="11.20" height="1.6" fill="#444"/>
<rect x="827.70" y="511.20" width="11.20" height="1.6" fill="#444"/>
<rect x="827.70" y="519.56" width="11.20" height="1.6" fill="#444"/>
<rect x="827.70" y="527.92" width="11.20" height="1.6" fill="#444"/>
<rect x="827.70" y="536.28" width="11.20" height="1.6" fill="#444"/>
<rect x="827.70" y="544.64" width="11.20" height="1.6" fill="#444"/>
<rect x="827.70" y="553.00" width="11.20" height="1.6" fill="#444"/>
<rect x="827.70" y="561.36" width="11.20" height="1.6" fill="#444"/>
<rect x="827.70" y="569.72" width="11.20" height="1.6" fill="#444"/>
<rect x="827.70" y="578.08" width="11.20" height="1.6" fill="#444"/>
<rect x="827.70" y="586.44" width="11.20" height="1.6" fill="#444"/>
<rect x="827.70" y="594.80" width="11.20" height="1.6" fill="#444"/>
</g>
<rect x="827.70" y="471.00" width="11.20" height="128.00" fill="none" stroke="#000" stroke-width="2.8"/>
<line x1="833.30" y1="470.60" x2="833.30" y2="450.30" stroke="#000" stroke-width="2.4"/>
<line x1="829.80" y1="449.90" x2="836.80" y2="449.90" stroke="#000" stroke-width="2.8"/>
</g>
<text x="834.00" y="445.30" text-anchor="middle" font-size="23" class="lt">b</text>
<clipPath id="c53"><rect x="849.90" y="536.80" width="11.50" height="62.20"/></clipPath>
<g clip-path="url(#segs)">
<g clip-path="url(#c53)">
<rect x="856.95" y="536.80" width="1.3" height="62.20" fill="#555"/>
</g>
<rect x="849.90" y="536.80" width="11.50" height="62.20" fill="none" stroke="#000" stroke-width="2.8"/>
<line x1="855.65" y1="536.40" x2="855.65" y2="521.70" stroke="#000" stroke-width="2.4"/>
<line x1="852.15" y1="521.30" x2="859.15" y2="521.30" stroke="#000" stroke-width="2.8"/>
</g>
<text x="854.25" y="516.60" text-anchor="middle" font-size="22.3" class="lt">ab</text>
<clipPath id="c54"><rect x="871.60" y="541.00" width="11.90" height="58.00"/></clipPath>
<g clip-path="url(#segs)">
<g clip-path="url(#c54)">
<line x1="869.60" y1="529.58" x2="885.50" y2="516.86" stroke="#222" stroke-width="1.15"/>
<line x1="869.60" y1="535.98" x2="885.50" y2="523.26" stroke="#222" stroke-width="1.15"/>
<line x1="869.60" y1="542.38" x2="885.50" y2="529.66" stroke="#222" stroke-width="1.15"/>
<line x1="869.60" y1="548.78" x2="885.50" y2="536.06" stroke="#222" stroke-width="1.15"/>
<line x1="869.60" y1="555.18" x2="885.50" y2="542.46" stroke="#222" stroke-width="1.15"/>
<line x1="869.60" y1="561.58" x2="885.50" y2="548.86" stroke="#222" stroke-width="1.15"/>
<line x1="869.60" y1="567.98" x2="885.50" y2="555.26" stroke="#222" stroke-width="1.15"/>
<line x1="869.60" y1="574.38" x2="885.50" y2="561.66" stroke="#222" stroke-width="1.15"/>
<line x1="869.60" y1="580.78" x2="885.50" y2="568.06" stroke="#222" stroke-width="1.15"/>
<line x1="869.60" y1="587.18" x2="885.50" y2="574.46" stroke="#222" stroke-width="1.15"/>
<line x1="869.60" y1="593.58" x2="885.50" y2="580.86" stroke="#222" stroke-width="1.15"/>
<line x1="869.60" y1="599.98" x2="885.50" y2="587.26" stroke="#222" stroke-width="1.15"/>
<line x1="869.60" y1="606.38" x2="885.50" y2="593.66" stroke="#222" stroke-width="1.15"/>
<line x1="869.60" y1="612.78" x2="885.50" y2="600.06" stroke="#222" stroke-width="1.15"/>
</g>
<rect x="871.60" y="541.00" width="11.90" height="58.00" fill="none" stroke="#000" stroke-width="2.8"/>
<line x1="877.55" y1="540.60" x2="877.55" y2="535.90" stroke="#000" stroke-width="2.4"/>
<line x1="874.05" y1="535.50" x2="881.05" y2="535.50" stroke="#000" stroke-width="2.8"/>
</g>
<text x="876.65" y="532.20" text-anchor="middle" font-size="22.3" class="lt">ab</text>
<clipPath id="c55"><rect x="893.90" y="512.80" width="11.80" height="86.20"/></clipPath>
<g clip-path="url(#segs)">
<g clip-path="url(#c55)">
<line x1="891.90" y1="494.02" x2="907.70" y2="506.66" stroke="#222" stroke-width="1.15"/>
<line x1="891.90" y1="500.42" x2="907.70" y2="513.06" stroke="#222" stroke-width="1.15"/>
<line x1="891.90" y1="506.82" x2="907.70" y2="519.46" stroke="#222" stroke-width="1.15"/>
<line x1="891.90" y1="513.22" x2="907.70" y2="525.86" stroke="#222" stroke-width="1.15"/>
<line x1="891.90" y1="519.62" x2="907.70" y2="532.26" stroke="#222" stroke-width="1.15"/>
<line x1="891.90" y1="526.02" x2="907.70" y2="538.66" stroke="#222" stroke-width="1.15"/>
<line x1="891.90" y1="532.42" x2="907.70" y2="545.06" stroke="#222" stroke-width="1.15"/>
<line x1="891.90" y1="538.82" x2="907.70" y2="551.46" stroke="#222" stroke-width="1.15"/>
<line x1="891.90" y1="545.22" x2="907.70" y2="557.86" stroke="#222" stroke-width="1.15"/>
<line x1="891.90" y1="551.62" x2="907.70" y2="564.26" stroke="#222" stroke-width="1.15"/>
<line x1="891.90" y1="558.02" x2="907.70" y2="570.66" stroke="#222" stroke-width="1.15"/>
<line x1="891.90" y1="564.42" x2="907.70" y2="577.06" stroke="#222" stroke-width="1.15"/>
<line x1="891.90" y1="570.82" x2="907.70" y2="583.46" stroke="#222" stroke-width="1.15"/>
<line x1="891.90" y1="577.22" x2="907.70" y2="589.86" stroke="#222" stroke-width="1.15"/>
<line x1="891.90" y1="583.62" x2="907.70" y2="596.26" stroke="#222" stroke-width="1.15"/>
<line x1="891.90" y1="590.02" x2="907.70" y2="602.66" stroke="#222" stroke-width="1.15"/>
<line x1="891.90" y1="596.42" x2="907.70" y2="609.06" stroke="#222" stroke-width="1.15"/>
<line x1="891.90" y1="602.82" x2="907.70" y2="615.46" stroke="#222" stroke-width="1.15"/>
<line x1="891.90" y1="609.22" x2="907.70" y2="621.86" stroke="#222" stroke-width="1.15"/>
</g>
<rect x="893.90" y="512.80" width="11.80" height="86.20" fill="none" stroke="#000" stroke-width="2.8"/>
<line x1="899.80" y1="512.40" x2="899.80" y2="490.70" stroke="#000" stroke-width="2.4"/>
<line x1="896.30" y1="490.30" x2="903.30" y2="490.30" stroke="#000" stroke-width="2.8"/>
</g>
<text x="898.50" y="486.70" text-anchor="middle" font-size="22.3" class="lt">ab</text>
<g stroke="#000" fill="none">
<line x1="37.4" y1="161.4" x2="37.4" y2="353" stroke-width="4"/>
<line x1="37.4" y1="370" x2="37.4" y2="601" stroke-width="4"/>
<line x1="25.5" y1="599" x2="917" y2="599" stroke-width="4"/>
<line x1="25.5" y1="194.1" x2="37" y2="194.1" stroke-width="4"/>
<line x1="25.5" y1="233.6" x2="37" y2="233.6" stroke-width="4"/>
<line x1="25.5" y1="279.8" x2="37" y2="279.8" stroke-width="4"/>
<line x1="25.5" y1="327.1" x2="37" y2="327.1" stroke-width="4"/>
<line x1="25.5" y1="463.0" x2="37" y2="463.0" stroke-width="4"/>
<line x1="107.20" y1="599" x2="107.20" y2="610.6" stroke-width="4"/>
<line x1="254.50" y1="599" x2="254.50" y2="610.6" stroke-width="4"/>
<line x1="401.80" y1="599" x2="401.80" y2="610.6" stroke-width="4"/>
<line x1="549.10" y1="599" x2="549.10" y2="610.6" stroke-width="4"/>
<line x1="696.40" y1="599" x2="696.40" y2="610.6" stroke-width="4"/>
<line x1="843.70" y1="599" x2="843.70" y2="610.6" stroke-width="4"/>
<line x1="30.4" y1="359.9" x2="44.0" y2="346.4" stroke-width="3.1"/>
<line x1="30.4" y1="376.8" x2="44.0" y2="363.2" stroke-width="3.1"/>
</g>
<polygon points="29.6,256.4 43.0,242.9 45.0,247.8 31.2,262.3" fill="#000"/>
<text x="21.2" y="201.0" text-anchor="end" font-size="20.3" font-weight="bold" class="lt">80</text>
<text x="21.2" y="240.5" text-anchor="end" font-size="20.3" font-weight="bold" class="lt">40</text>
<text x="21.2" y="286.7" text-anchor="end" font-size="20.3" font-weight="bold" class="lt">20</text>
<text x="21.2" y="334.0" text-anchor="end" font-size="20.3" font-weight="bold" class="lt">10</text>
<text x="21.2" y="469.9" text-anchor="end" font-size="20.3" font-weight="bold" class="lt">3</text>
<text x="21.2" y="605.9" text-anchor="end" font-size="20.3" font-weight="bold" class="lt">0</text>
<text x="106.75" y="632.3" text-anchor="middle" font-size="20.3" font-style="italic" letter-spacing="1.0" class="lt">PPAR-α</text>
<text x="254.6" y="632.3" text-anchor="middle" font-size="20.3" font-style="italic" letter-spacing="1.0" class="lt">PPAR-β</text>
<text x="401.7" y="632.3" text-anchor="middle" font-size="20.3" font-style="italic" letter-spacing="1.0" class="lt">PPAR-γ</text>
<text x="549.0" y="632.3" text-anchor="middle" font-size="20.3" font-style="italic" letter-spacing="1.0" class="lt">L-FABP</text>
<text x="696.5" y="632.3" text-anchor="middle" font-size="20.3" font-style="italic" letter-spacing="1.0" class="lt">H-FABP</text>
<text x="844.0" y="632.3" text-anchor="middle" font-size="20.3" font-style="italic" letter-spacing="1.0" class="lt">A-FABP</text>
<text x="477" y="674.9" text-anchor="middle" font-size="21.9" font-weight="bold" class="lt" letter-spacing="1.28">relative expression levels</text>
<clipPath id="l0"><rect x="910.15" y="3.25" width="26.60" height="11.20"/></clipPath><g clip-path="url(#l0)">
<rect x="910.15" y="3.25" width="26.600000000000023" height="11.200000000000001" fill="#000"/>
<rect x="911.60" y="2.00" width="2.8" height="2.8" fill="#fff"/>
<rect x="917.20" y="2.00" width="2.8" height="2.8" fill="#fff"/>
<rect x="922.80" y="2.00" width="2.8" height="2.8" fill="#fff"/>
<rect x="928.40" y="2.00" width="2.8" height="2.8" fill="#fff"/>
<rect x="934.00" y="2.00" width="2.8" height="2.8" fill="#fff"/>
<rect x="939.60" y="2.00" width="2.8" height="2.8" fill="#fff"/>
<rect x="914.40" y="4.80" width="2.8" height="2.8" fill="#fff"/>
<rect x="920.00" y="4.80" width="2.8" height="2.8" fill="#fff"/>
<rect x="925.60" y="4.80" width="2.8" height="2.8" fill="#fff"/>
<rect x="931.20" y="4.80" width="2.8" height="2.8" fill="#fff"/>
<rect x="936.80" y="4.80" width="2.8" height="2.8" fill="#fff"/>
<rect x="942.40" y="4.80" width="2.8" height="2.8" fill="#fff"/>
<rect x="911.60" y="7.60" width="2.8" height="2.8" fill="#fff"/>
<rect x="917.20" y="7.60" width="2.8" height="2.8" fill="#fff"/>
<rect x="922.80" y="7.60" width="2.8" height="2.8" fill="#fff"/>
<rect x="928.40" y="7.60" width="2.8" height="2.8" fill="#fff"/>
<rect x="934.00" y="7.60" width="2.8" height="2.8" fill="#fff"/>
<rect x="939.60" y="7.60" width="2.8" height="2.8" fill="#fff"/>
<rect x="914.40" y="10.40" width="2.8" height="2.8" fill="#fff"/>
<rect x="920.00" y="10.40" width="2.8" height="2.8" fill="#fff"/>
<rect x="925.60" y="10.40" width="2.8" height="2.8" fill="#fff"/>
<rect x="931.20" y="10.40" width="2.8" height="2.8" fill="#fff"/>
<rect x="936.80" y="10.40" width="2.8" height="2.8" fill="#fff"/>
<rect x="942.40" y="10.40" width="2.8" height="2.8" fill="#fff"/>
<rect x="911.60" y="13.20" width="2.8" height="2.8" fill="#fff"/>
<rect x="917.20" y="13.20" width="2.8" height="2.8" fill="#fff"/>
<rect x="922.80" y="13.20" width="2.8" height="2.8" fill="#fff"/>
<rect x="928.40" y="13.20" width="2.8" height="2.8" fill="#fff"/>
<rect x="934.00" y="13.20" width="2.8" height="2.8" fill="#fff"/>
<rect x="939.60" y="13.20" width="2.8" height="2.8" fill="#fff"/>
</g>
<rect x="910.15" y="3.25" width="26.60" height="11.20" fill="none" stroke="#000" stroke-width="2.7"/>
<text x="955.5" y="15.6" font-size="21" class="lt">V1</text>
<clipPath id="l1"><rect x="910.15" y="39.65" width="26.60" height="12.70"/></clipPath><g clip-path="url(#l1)">
<rect x="910.15" y="39.65" width="26.600000000000023" height="12.700000000000003" fill="#000"/>
<rect x="912.05" y="40.9" width="3.60" height="5.00" fill="#fff"/>
<rect x="921.75" y="40.9" width="5.40" height="5.00" fill="#fff"/>
<rect x="933.15" y="40.9" width="2.00" height="5.00" fill="#fff"/>
<rect x="915.9499999999999" y="46.6" width="5.50" height="4.50" fill="#fff"/>
<rect x="927.4499999999999" y="46.6" width="5.40" height="4.50" fill="#fff"/>
</g>
<rect x="910.15" y="39.65" width="26.60" height="12.70" fill="none" stroke="#000" stroke-width="2.7"/>
<text x="955.5" y="53.1" font-size="21" class="lt">V2</text>
<clipPath id="l2"><rect x="910.15" y="77.55" width="26.60" height="12.50"/></clipPath><g clip-path="url(#l2)">
<rect x="910.15" y="84.55" width="26.600000000000023" height="1.3" fill="#222"/>
</g>
<rect x="910.15" y="77.55" width="26.60" height="12.50" fill="none" stroke="#000" stroke-width="2.7"/>
<text x="955.5" y="90.9" font-size="21" class="lt">V3</text>
<clipPath id="l3"><rect x="910.15" y="115.35" width="26.60" height="12.10"/></clipPath><g clip-path="url(#l3)">
<rect x="917.20" y="115.35" width="1.2" height="12.100000000000023" fill="#333"/>
<rect x="926.00" y="115.35" width="1.2" height="12.100000000000023" fill="#333"/>
<rect x="934.80" y="115.35" width="1.2" height="12.100000000000023" fill="#333"/>
</g>
<rect x="910.15" y="115.35" width="26.60" height="12.10" fill="none" stroke="#000" stroke-width="2.7"/>
<text x="955.5" y="128.4" font-size="21" class="lt">V4</text>
<clipPath id="l4"><rect x="910.15" y="153.25" width="26.60" height="12.30"/></clipPath><g clip-path="url(#l4)">
<line x1="897.20" y1="164.2" x2="907.60" y2="153.8" stroke="#222" stroke-width="1.4"/>
<line x1="905.40" y1="164.2" x2="915.80" y2="153.8" stroke="#222" stroke-width="1.4"/>
<line x1="913.60" y1="164.2" x2="924.00" y2="153.8" stroke="#222" stroke-width="1.4"/>
<line x1="921.80" y1="164.2" x2="932.20" y2="153.8" stroke="#222" stroke-width="1.4"/>
<line x1="930.00" y1="164.2" x2="940.40" y2="153.8" stroke="#222" stroke-width="1.4"/>
<line x1="938.20" y1="164.2" x2="948.60" y2="153.8" stroke="#222" stroke-width="1.4"/>
<line x1="946.40" y1="164.2" x2="956.80" y2="153.8" stroke="#222" stroke-width="1.4"/>
<line x1="954.60" y1="164.2" x2="965.00" y2="153.8" stroke="#222" stroke-width="1.4"/>
</g>
<rect x="910.15" y="153.25" width="26.60" height="12.30" fill="none" stroke="#000" stroke-width="2.7"/>
<text x="955.5" y="166.1" font-size="21" class="lt">V5</text>
<clipPath id="l5"><rect x="910.15" y="190.65" width="26.60" height="11.30"/></clipPath><g clip-path="url(#l5)">
<line x1="897.80" y1="192.1" x2="908.80" y2="200.9" stroke="#222" stroke-width="1.4"/>
<line x1="906.00" y1="192.1" x2="917.00" y2="200.9" stroke="#222" stroke-width="1.4"/>
<line x1="914.20" y1="192.1" x2="925.20" y2="200.9" stroke="#222" stroke-width="1.4"/>
<line x1="922.40" y1="192.1" x2="933.40" y2="200.9" stroke="#222" stroke-width="1.4"/>
<line x1="930.60" y1="192.1" x2="941.60" y2="200.9" stroke="#222" stroke-width="1.4"/>
<line x1="938.80" y1="192.1" x2="949.80" y2="200.9" stroke="#222" stroke-width="1.4"/>
<line x1="947.00" y1="192.1" x2="958.00" y2="200.9" stroke="#222" stroke-width="1.4"/>
<line x1="955.20" y1="192.1" x2="966.20" y2="200.9" stroke="#222" stroke-width="1.4"/>
</g>
<rect x="910.15" y="190.65" width="26.60" height="11.30" fill="none" stroke="#000" stroke-width="2.7"/>
<text x="955.5" y="203.4" font-size="21" class="lt">V6</text>
</svg></body></html>
